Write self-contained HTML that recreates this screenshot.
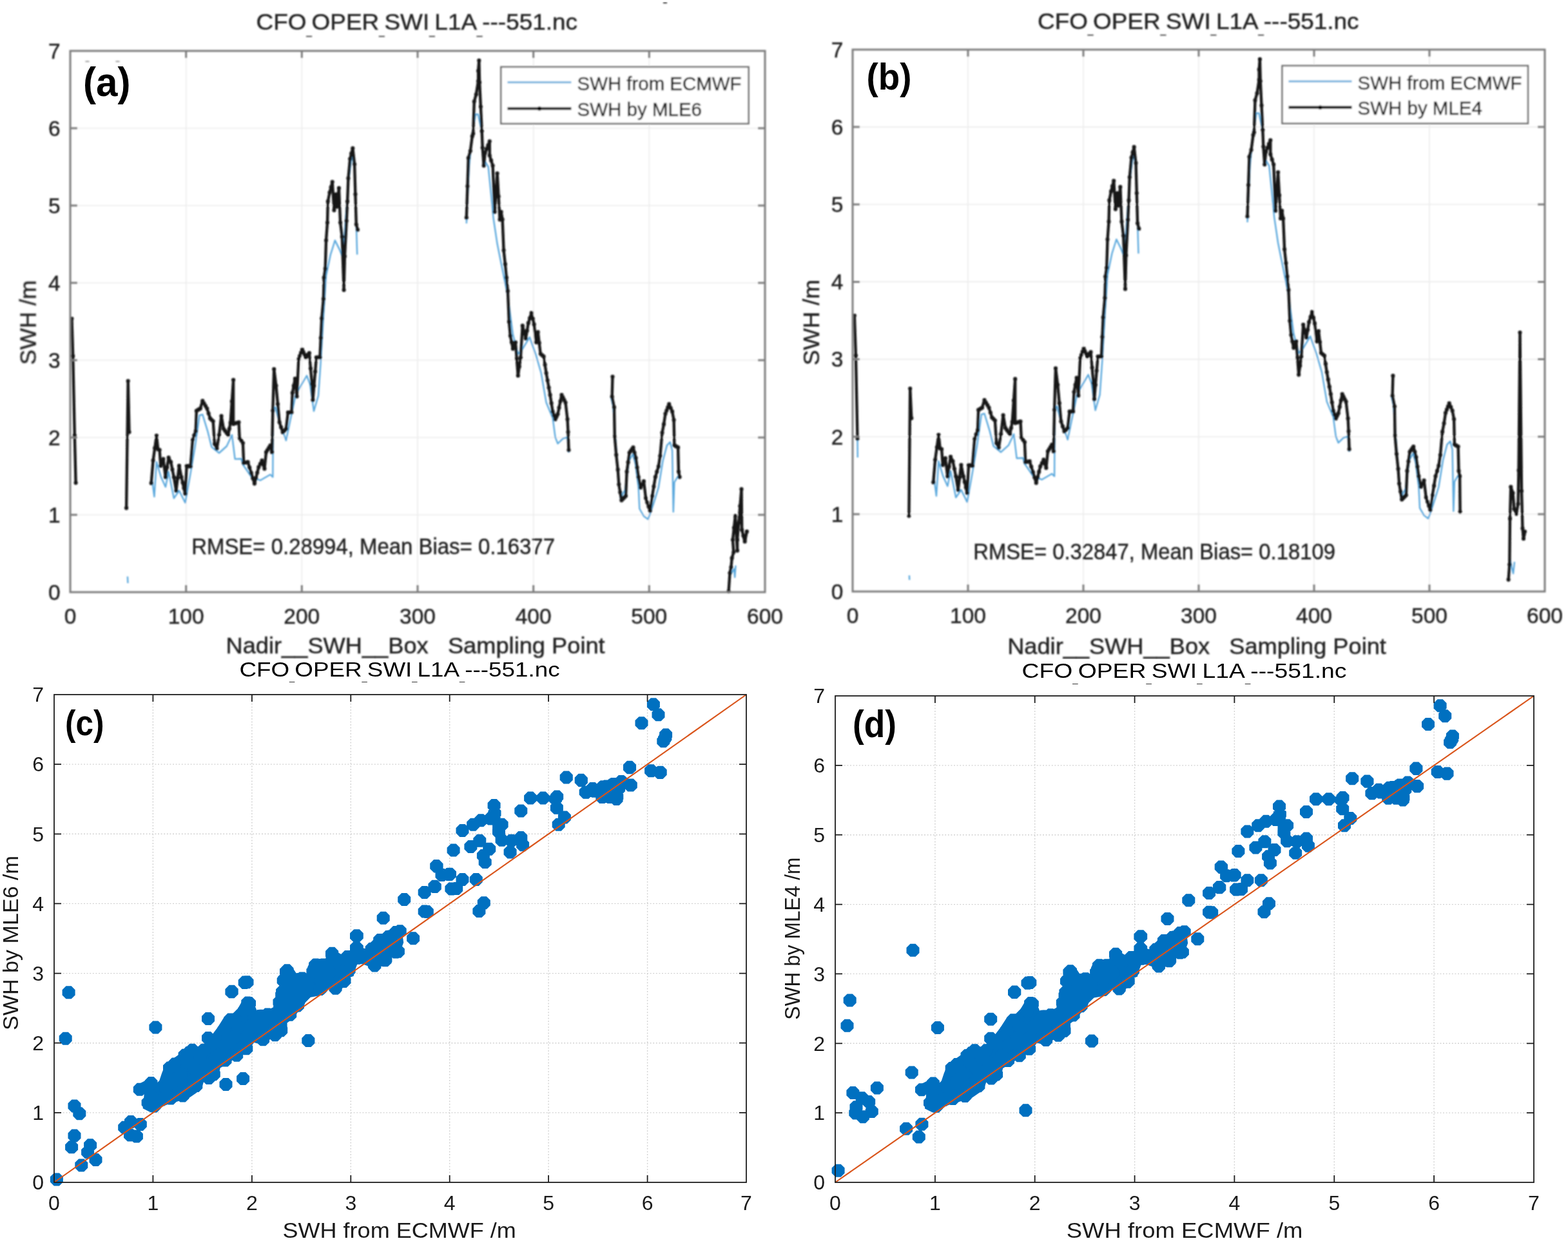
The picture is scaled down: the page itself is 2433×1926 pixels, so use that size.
<!DOCTYPE html>
<html><head><meta charset="utf-8"><title>SWH comparison</title>
<style>html,body{margin:0;padding:0;background:#fff;width:2433px;height:1926px;overflow:hidden}svg{display:block}</style>
</head><body><svg width="2433" height="1926" viewBox="0 0 2433 1926" font-family="'Liberation Sans', Arial, Helvetica, sans-serif"><defs><filter id="bl" x="0" y="0" width="1" height="1"><feGaussianBlur stdDeviation="0.8"/></filter></defs><g filter="url(#bl)"><line x1="288.7" y1="79" x2="288.7" y2="919" stroke="#ececec" stroke-width="1.6" />
<line x1="468.3" y1="79" x2="468.3" y2="919" stroke="#ececec" stroke-width="1.6" />
<line x1="648.0" y1="79" x2="648.0" y2="919" stroke="#ececec" stroke-width="1.6" />
<line x1="827.7" y1="79" x2="827.7" y2="919" stroke="#ececec" stroke-width="1.6" />
<line x1="1007.3" y1="79" x2="1007.3" y2="919" stroke="#ececec" stroke-width="1.6" />
<line x1="109" y1="799.0" x2="1187" y2="799.0" stroke="#ececec" stroke-width="1.6" />
<line x1="109" y1="679.0" x2="1187" y2="679.0" stroke="#ececec" stroke-width="1.6" />
<line x1="109" y1="559.0" x2="1187" y2="559.0" stroke="#ececec" stroke-width="1.6" />
<line x1="109" y1="439.0" x2="1187" y2="439.0" stroke="#ececec" stroke-width="1.6" />
<line x1="109" y1="319.0" x2="1187" y2="319.0" stroke="#ececec" stroke-width="1.6" />
<line x1="109" y1="199.0" x2="1187" y2="199.0" stroke="#ececec" stroke-width="1.6" />
<line x1="1502.0" y1="77" x2="1502.0" y2="918" stroke="#ececec" stroke-width="1.6" />
<line x1="1681.0" y1="77" x2="1681.0" y2="918" stroke="#ececec" stroke-width="1.6" />
<line x1="1860.0" y1="77" x2="1860.0" y2="918" stroke="#ececec" stroke-width="1.6" />
<line x1="2039.0" y1="77" x2="2039.0" y2="918" stroke="#ececec" stroke-width="1.6" />
<line x1="2218.0" y1="77" x2="2218.0" y2="918" stroke="#ececec" stroke-width="1.6" />
<line x1="1323" y1="797.9" x2="2397" y2="797.9" stroke="#ececec" stroke-width="1.6" />
<line x1="1323" y1="677.7" x2="2397" y2="677.7" stroke="#ececec" stroke-width="1.6" />
<line x1="1323" y1="557.6" x2="2397" y2="557.6" stroke="#ececec" stroke-width="1.6" />
<line x1="1323" y1="437.4" x2="2397" y2="437.4" stroke="#ececec" stroke-width="1.6" />
<line x1="1323" y1="317.3" x2="2397" y2="317.3" stroke="#ececec" stroke-width="1.6" />
<line x1="1323" y1="197.1" x2="2397" y2="197.1" stroke="#ececec" stroke-width="1.6" />
<g>
<polyline points="197.9,894.7 198.4,905.0" fill="none" stroke="#5aa8dd" stroke-width="2.4" stroke-linejoin="round"/>
<polyline points="236.0,745.0 239.4,770.9 242.9,717.0 249.9,740.5 256.9,755.7 261.6,732.3 269.8,773.2 278.0,761.5 287.4,780.3 295.6,734.6 302.6,693.6 309.6,644.5 314.3,643.3 322.5,670.2 328.3,693.6 340.0,703.0 351.7,692.5 360.0,675.0 364.6,712.4 374.3,712.0 376.9,721.0 390.0,740.0 403.9,745.5 419.4,736.5 423.3,740.3 423.9,636.0 427.1,632.1 432.3,650.2 443.9,683.6 450.3,652.7 459.0,612.0 466.0,600.0 476.0,583.0 481.0,596.0 487.0,638.0 494.0,614.0 497.8,560.2 501.9,491.4 506.0,428.1 512.9,395.1 519.8,373.1 526.7,386.9 532.2,400.6 536.3,340.1 540.4,285.0 545.9,241.0 550.1,257.5 554.2,395.1" fill="none" stroke="#5aa8dd" stroke-width="2.4" stroke-linejoin="round"/>
<polyline points="723.8,346.7 727.8,259.1 732.8,207.4 737.8,177.5 741.8,177.5 745.7,195.4 751.7,249.2 757.7,259.1 761.7,298.9 765.6,338.8 771.6,378.6 777.6,408.4 787.9,459.6 795.9,519.3 803.8,549.2 809.8,543.2 821.8,523.3 831.7,551.2 839.7,579.0 847.6,624.8 857.6,648.7 861.6,678.6 865.5,688.5 873.5,680.6 880.5,678.6 882.5,702.4" fill="none" stroke="#5aa8dd" stroke-width="2.4" stroke-linejoin="round"/>
<polyline points="948.0,615.7 951.3,630.5 955.0,680.0 958.0,720.0 962.8,773.1 970.0,760.0 976.0,715.0 982.0,705.0 986.0,720.0 990.7,756.7 992.3,789.5 998.9,801.0 1005.4,805.9 1008.7,797.7 1015.2,778.0 1021.8,756.7 1028.4,715.7 1034.9,691.1 1039.8,686.2 1043.1,699.3 1044.8,794.4 1046.4,748.5 1051.3,740.3 1054.6,737.0" fill="none" stroke="#5aa8dd" stroke-width="2.4" stroke-linejoin="round"/>
<polyline points="1132.5,893.2 1139.0,882.9 1140.2,895.8 1141.5,877.7" fill="none" stroke="#5aa8dd" stroke-width="2.4" stroke-linejoin="round"/>
<polyline points="111.4,494.6 113.2,552.6 115.8,675.5 117.6,749.3" fill="none" stroke="#141414" stroke-width="4.4" stroke-linejoin="round"/>
<path fill="none" stroke="#141414" stroke-width="6.2" stroke-linecap="round" d="M111.4 494.6h0M113.2 552.6h0M115.8 675.5h0M117.6 749.3h0"/>
<polyline points="196.1,788.4 198.7,591.3 200.5,670.6" fill="none" stroke="#141414" stroke-width="4.4" stroke-linejoin="round"/>
<path fill="none" stroke="#141414" stroke-width="6.2" stroke-linecap="round" d="M196.1 788.4h0M198.7 591.3h0M200.5 670.6h0"/>
<polyline points="234.7,749.8 237.6,714.7 242.9,676.1 245.2,697.2 247.6,698.3 249.3,722.9 253.4,712.4 256.9,740.5 261.6,710.0 265.1,717.0 269.8,740.5 273.3,761.5 278.0,722.9 281.5,740.5 287.4,766.2 289.7,722.9 295.6,724.1 299.0,682.0 303.7,669.0 304.9,637.5 310.8,634.0 314.3,622.2 321.3,634.0 326.0,649.2 330.7,653.8 333.0,689.0 336.5,696.0 340.0,675.0 343.5,645.7 347.0,665.6 354.0,675.0 357.6,656.2 362.1,589.6 362.1,657.9 370.5,655.3 371.7,679.8 376.9,687.5 378.2,718.4 384.6,717.1 389.8,733.9 394.9,750.6 401.4,724.9 406.5,714.6 410.4,727.4 413.0,701.7 419.4,691.4 422.0,701.7 423.3,637.3 425.2,572.9 428.4,598.6 431.0,627.0 433.6,655.3 438.7,670.8 443.9,665.6 446.9,640.0 452.4,640.0 453.8,609.7 457.9,587.7 460.6,615.3 463.4,557.5 468.9,542.3 474.4,554.7 479.9,547.8 484.0,596.0 485.4,620.8 490.9,554.7 496.4,554.7 497.8,524.4 499.2,494.2 501.9,463.9 502.7,430.9 504.7,417.1 506.0,373.1 508.0,345.6 508.8,312.6 511.5,298.8 515.7,282.3 518.4,326.3 521.2,301.5 522.6,320.8 525.9,291.9 528.1,345.6 530.8,367.6 533.6,450.1 534.9,397.9 537.7,342.8 539.1,312.6 540.4,276.8 543.2,246.5 547.3,230.0 550.1,254.8 551.4,301.5 552.8,348.3 555.0,356.6" fill="none" stroke="#141414" stroke-width="4.4" stroke-linejoin="round"/>
<path fill="none" stroke="#141414" stroke-width="6.2" stroke-linecap="round" d="M234.7 749.8h0M237.6 714.7h0M240.2 695.4h0M242.9 676.1h0M245.2 697.2h0M247.6 698.3h0M249.3 722.9h0M251.3 717.6h0M253.4 712.4h0M256.9 740.5h0M259.2 725.2h0M261.6 710.0h0M265.1 717.0h0M267.4 728.8h0M269.8 740.5h0M273.3 761.5h0M275.6 742.2h0M278.0 722.9h0M281.5 740.5h0M283.5 749.1h0M285.4 757.6h0M287.4 766.2h0M289.7 722.9h0M291.7 723.3h0M293.6 723.7h0M295.6 724.1h0M299.0 682.0h0M301.3 675.5h0M303.7 669.0h0M304.9 637.5h0M306.9 636.3h0M308.8 635.2h0M310.8 634.0h0M314.3 622.2h0M316.6 626.1h0M319.0 630.1h0M321.3 634.0h0M323.6 641.6h0M326.0 649.2h0M328.3 651.5h0M330.7 653.8h0M333.0 689.0h0M336.5 696.0h0M340.0 675.0h0M343.5 645.7h0M347.0 665.6h0M349.3 668.7h0M351.7 671.9h0M354.0 675.0h0M355.8 665.6h0M357.6 656.2h0M359.8 622.9h0M362.1 589.6h0M362.1 657.9h0M364.2 657.2h0M366.3 656.6h0M368.4 656.0h0M370.5 655.3h0M371.7 679.8h0M374.3 683.6h0M376.9 687.5h0M378.2 718.4h0M380.3 718.0h0M382.5 717.5h0M384.6 717.1h0M387.2 725.5h0M389.8 733.9h0M392.3 742.2h0M394.9 750.6h0M397.1 742.0h0M399.2 733.5h0M401.4 724.9h0M403.9 719.8h0M406.5 714.6h0M408.4 721.0h0M410.4 727.4h0M413.0 701.7h0M415.1 698.3h0M417.3 694.8h0M419.4 691.4h0M422.0 701.7h0M423.3 637.3h0M425.2 572.9h0M428.4 598.6h0M431.0 627.0h0M433.6 655.3h0M436.1 663.0h0M438.7 670.8h0M441.3 668.2h0M443.9 665.6h0M446.9 640.0h0M448.7 640.0h0M450.6 640.0h0M452.4 640.0h0M453.8 609.7h0M455.8 598.7h0M457.9 587.7h0M460.6 615.3h0M463.4 557.5h0M465.2 552.4h0M467.1 547.4h0M468.9 542.3h0M470.7 546.4h0M472.6 550.6h0M474.4 554.7h0M476.2 552.4h0M478.1 550.1h0M479.9 547.8h0M481.9 571.9h0M484.0 596.0h0M485.4 620.8h0M487.2 598.8h0M489.1 576.7h0M490.9 554.7h0M492.7 554.7h0M494.6 554.7h0M496.4 554.7h0M497.8 524.4h0M499.2 494.2h0M501.9 463.9h0M502.7 430.9h0M504.7 417.1h0M506.0 373.1h0M508.0 345.6h0M508.8 312.6h0M511.5 298.8h0M513.6 290.5h0M515.7 282.3h0M518.4 326.3h0M521.2 301.5h0M522.6 320.8h0M525.9 291.9h0M528.1 345.6h0M530.8 367.6h0M533.6 450.1h0M534.9 397.9h0M537.7 342.8h0M539.1 312.6h0M540.4 276.8h0M543.2 246.5h0M545.2 238.2h0M547.3 230.0h0M550.1 254.8h0M551.4 301.5h0M552.8 348.3h0M555.0 356.6h0"/>
<polyline points="723.8,337.8 725.4,289.0 726.8,245.2 729.8,234.3 732.8,211.4 734.2,207.4 735.8,157.6 738.8,146.7 742.1,125.8 742.1,109.9 743.3,93.9 744.1,127.8 747.7,203.4 748.7,229.3 750.7,257.1 752.7,237.2 759.7,219.3 759.7,241.2 764.6,257.1 767.6,328.8 771.6,269.1 773.6,304.9 775.6,340.7 777.6,328.8 779.6,340.7 781.6,388.5 783.9,409.9 787.9,451.7 789.9,499.4 791.9,521.3 795.9,541.2 799.9,531.3 803.8,583.0 807.8,555.2 810.8,505.4 815.8,525.3 819.8,501.4 824.7,485.5 828.7,503.4 831.7,531.3 834.7,515.3 838.7,549.2 843.6,553.2 847.6,579.0 853.6,612.9 857.6,638.8 861.6,650.7 865.5,642.7 871.5,612.9 877.5,624.8 880.5,650.7 881.5,670.6 882.5,698.5" fill="none" stroke="#141414" stroke-width="4.4" stroke-linejoin="round"/>
<path fill="none" stroke="#141414" stroke-width="6.2" stroke-linecap="round" d="M723.8 337.8h0M725.4 289.0h0M726.8 245.2h0M729.8 234.3h0M732.8 211.4h0M734.2 207.4h0M735.8 157.6h0M738.8 146.7h0M742.1 125.8h0M742.1 109.9h0M743.3 93.9h0M744.1 127.8h0M745.9 165.6h0M747.7 203.4h0M748.7 229.3h0M750.7 257.1h0M752.7 237.2h0M755.0 231.2h0M757.4 225.3h0M759.7 219.3h0M759.7 241.2h0M762.1 249.1h0M764.6 257.1h0M767.6 328.8h0M769.6 298.9h0M771.6 269.1h0M773.6 304.9h0M775.6 340.7h0M777.6 328.8h0M779.6 340.7h0M781.6 388.5h0M783.9 409.9h0M785.9 430.8h0M787.9 451.7h0M789.9 499.4h0M791.9 521.3h0M793.9 531.2h0M795.9 541.2h0M797.9 536.2h0M799.9 531.3h0M801.8 557.1h0M803.8 583.0h0M805.8 569.1h0M807.8 555.2h0M810.8 505.4h0M813.3 515.3h0M815.8 525.3h0M817.8 513.3h0M819.8 501.4h0M822.2 493.5h0M824.7 485.5h0M826.7 494.4h0M828.7 503.4h0M831.7 531.3h0M834.7 515.3h0M836.7 532.2h0M838.7 549.2h0M841.1 551.2h0M843.6 553.2h0M845.6 566.1h0M847.6 579.0h0M849.6 590.3h0M851.6 601.6h0M853.6 612.9h0M855.6 625.8h0M857.6 638.8h0M859.6 644.8h0M861.6 650.7h0M863.5 646.7h0M865.5 642.7h0M867.5 632.8h0M869.5 622.8h0M871.5 612.9h0M873.5 616.9h0M875.5 620.8h0M877.5 624.8h0M880.5 650.7h0M881.5 670.6h0M882.5 698.5h0"/>
<polyline points="950.5,584.6 949.7,615.7 953.0,632.1 953.8,678.0 956.2,705.9 958.7,728.9 960.3,751.8 964.4,776.4 971.0,769.8 972.6,732.1 976.7,702.6 982.5,694.4 986.6,710.8 990.7,740.3 994.0,756.7 998.9,746.9 1002.1,773.1 1008.7,792.8 1012.0,769.8 1016.9,740.3 1021.8,723.9 1024.3,707.5 1027.5,671.5 1030.0,658.4 1032.5,642.0 1038.2,627.2 1043.1,638.7 1045.6,651.8 1046.4,691.1 1052.1,694.4 1053.0,732.1 1054.6,740.3" fill="none" stroke="#141414" stroke-width="4.4" stroke-linejoin="round"/>
<path fill="none" stroke="#141414" stroke-width="6.2" stroke-linecap="round" d="M950.5 584.6h0M949.7 615.7h0M953.0 632.1h0M953.8 678.0h0M956.2 705.9h0M958.7 728.9h0M960.3 751.8h0M962.3 764.1h0M964.4 776.4h0M966.6 774.2h0M968.8 772.0h0M971.0 769.8h0M972.6 732.1h0M974.6 717.4h0M976.7 702.6h0M978.6 699.9h0M980.6 697.1h0M982.5 694.4h0M984.5 702.6h0M986.6 710.8h0M988.6 725.5h0M990.7 740.3h0M994.0 756.7h0M996.4 751.8h0M998.9 746.9h0M1002.1 773.1h0M1004.3 779.7h0M1006.5 786.2h0M1008.7 792.8h0M1012.0 769.8h0M1014.4 755.0h0M1016.9 740.3h0M1019.3 732.1h0M1021.8 723.9h0M1024.3 707.5h0M1027.5 671.5h0M1030.0 658.4h0M1032.5 642.0h0M1034.4 637.1h0M1036.3 632.1h0M1038.2 627.2h0M1040.6 633.0h0M1043.1 638.7h0M1045.6 651.8h0M1046.4 691.1h0M1048.3 692.2h0M1050.2 693.3h0M1052.1 694.4h0M1053.0 732.1h0M1054.6 740.3h0"/>
<polyline points="1130.6,917.7 1132.5,889.3 1134.4,880.3 1135.7,866.2 1138.3,857.1 1137.0,837.8 1140.9,800.5 1144.1,854.6 1144.1,837.8 1150.5,759.2 1151.2,822.4 1155.7,840.4 1158.9,824.9 1155.7,836.5" fill="none" stroke="#141414" stroke-width="4.4" stroke-linejoin="round"/>
<path fill="none" stroke="#141414" stroke-width="6.2" stroke-linecap="round" d="M1130.6 917.7h0M1132.5 889.3h0M1134.4 880.3h0M1135.7 866.2h0M1138.3 857.1h0M1137.0 837.8h0M1138.9 819.1h0M1140.9 800.5h0M1144.1 854.6h0M1144.1 837.8h0M1146.2 811.6h0M1148.3 785.4h0M1150.5 759.2h0M1151.2 822.4h0M1153.4 831.4h0M1155.7 840.4h0M1158.9 824.9h0M1155.7 836.5h0"/>
</g>
<g>
<polyline points="1330.5,680.7 1330.8,710.0" fill="none" stroke="#5aa8dd" stroke-width="2.4" stroke-linejoin="round"/>
<polyline points="1410.9,893.0 1411.2,900.0" fill="none" stroke="#5aa8dd" stroke-width="2.4" stroke-linejoin="round"/>
<polyline points="1449.5,743.8 1452.9,769.7 1456.4,715.8 1463.4,739.3 1470.3,754.5 1475.0,731.1 1483.2,772.0 1491.4,760.3 1500.7,779.1 1508.9,733.4 1515.9,692.3 1522.9,643.2 1527.5,642.0 1535.7,668.9 1541.5,692.3 1553.1,701.7 1564.8,691.2 1573.1,673.7 1577.6,711.2 1587.3,710.8 1589.9,719.8 1603.0,738.8 1616.8,744.3 1632.2,735.3 1636.1,739.1 1636.7,634.7 1639.9,630.8 1645.1,648.9 1656.7,682.3 1663.0,651.4 1671.7,610.6 1678.7,598.6 1688.6,581.6 1693.6,594.6 1699.6,636.7 1706.6,612.6 1710.4,558.8 1714.4,489.9 1718.5,426.5 1725.4,393.5 1732.3,371.5 1739.1,385.3 1744.6,399.0 1748.7,338.4 1752.8,283.2 1758.3,239.2 1762.5,255.7 1766.5,393.5" fill="none" stroke="#5aa8dd" stroke-width="2.4" stroke-linejoin="round"/>
<polyline points="1935.5,345.0 1939.5,257.3 1944.5,205.6 1949.5,175.6 1953.4,175.6 1957.3,193.5 1963.3,247.4 1969.3,257.3 1973.3,297.2 1977.2,337.1 1983.1,377.0 1989.1,406.8 1999.4,458.1 2007.3,517.8 2015.2,547.8 2021.2,541.8 2033.1,521.8 2043.0,549.8 2051.0,577.6 2058.8,623.4 2068.8,647.4 2072.8,677.3 2076.7,687.2 2084.6,679.3 2091.6,677.3 2093.6,701.1" fill="none" stroke="#5aa8dd" stroke-width="2.4" stroke-linejoin="round"/>
<polyline points="2158.9,614.3 2162.2,629.2 2165.8,678.7 2168.8,718.8 2173.6,771.9 2180.8,758.8 2186.8,713.8 2192.7,703.7 2196.7,718.8 2201.4,755.5 2203.0,788.3 2209.6,799.9 2216.1,804.8 2219.3,796.6 2225.8,776.8 2232.4,755.5 2239.0,714.5 2245.4,689.8 2250.3,684.9 2253.6,698.0 2255.3,793.3 2256.9,747.3 2261.8,739.1 2265.1,735.8" fill="none" stroke="#5aa8dd" stroke-width="2.4" stroke-linejoin="round"/>
<polyline points="2341.5,895.0 2343.0,868.0 2345.5,880.0 2348.0,890.0 2350.0,872.0" fill="none" stroke="#5aa8dd" stroke-width="2.4" stroke-linejoin="round"/>
<polyline points="1325.8,489.8 1327.9,551.7 1330.5,680.7" fill="none" stroke="#141414" stroke-width="4.4" stroke-linejoin="round"/>
<path fill="none" stroke="#141414" stroke-width="6.2" stroke-linecap="round" d="M1325.8 489.8h0M1327.9 551.7h0M1330.5 680.7h0"/>
<polyline points="1410.4,800.6 1412.2,603.0 1414.3,649.1" fill="none" stroke="#141414" stroke-width="4.4" stroke-linejoin="round"/>
<path fill="none" stroke="#141414" stroke-width="6.2" stroke-linecap="round" d="M1410.4 800.6h0M1412.2 603.0h0M1414.3 649.1h0"/>
<polyline points="1448.2,748.6 1451.1,713.5 1456.4,674.8 1458.7,695.9 1461.1,697.0 1462.8,721.7 1466.9,711.2 1470.3,739.3 1475.0,708.8 1478.5,715.8 1483.2,739.3 1486.7,760.3 1491.4,721.7 1494.9,739.3 1500.7,765.0 1503.0,721.7 1508.9,722.9 1512.3,680.7 1517.0,667.7 1518.2,636.2 1524.0,632.7 1527.5,620.8 1534.5,632.7 1539.2,647.9 1543.9,652.5 1546.2,687.7 1549.7,694.7 1553.1,673.7 1556.6,644.4 1560.1,664.3 1567.1,673.7 1570.7,654.9 1575.2,588.2 1575.2,656.6 1583.5,654.0 1584.7,678.5 1589.9,686.2 1591.2,717.2 1597.6,715.9 1602.8,732.7 1607.8,749.4 1614.3,723.7 1619.4,713.4 1623.3,726.2 1625.9,700.4 1632.2,690.1 1634.8,700.4 1636.1,636.0 1638.0,571.5 1641.2,597.2 1643.8,625.7 1646.4,654.0 1651.5,669.5 1656.7,664.3 1659.6,638.7 1665.1,638.7 1666.5,608.3 1670.6,586.3 1673.3,613.9 1676.1,556.1 1681.6,540.9 1687.0,553.3 1692.5,546.4 1696.6,594.6 1698.0,619.4 1703.5,553.3 1709.0,553.3 1710.4,522.9 1711.7,492.7 1714.4,462.4 1715.2,429.3 1717.2,415.5 1718.5,371.5 1720.5,343.9 1721.3,310.9 1724.0,297.1 1728.2,280.5 1730.9,324.6 1733.7,299.8 1735.1,319.1 1738.3,290.2 1740.5,343.9 1743.2,365.9 1746.0,448.5 1747.3,396.3 1750.1,341.1 1751.5,310.9 1752.8,275.0 1755.6,244.7 1759.7,228.2 1762.5,253.0 1763.8,299.8 1765.1,346.6 1767.3,354.9" fill="none" stroke="#141414" stroke-width="4.4" stroke-linejoin="round"/>
<path fill="none" stroke="#141414" stroke-width="6.2" stroke-linecap="round" d="M1448.2 748.6h0M1451.1 713.5h0M1453.8 694.1h0M1456.4 674.8h0M1458.7 695.9h0M1461.1 697.0h0M1462.8 721.7h0M1464.8 716.4h0M1466.9 711.2h0M1470.3 739.3h0M1472.7 724.0h0M1475.0 708.8h0M1478.5 715.8h0M1480.9 727.5h0M1483.2 739.3h0M1486.7 760.3h0M1489.0 741.0h0M1491.4 721.7h0M1494.9 739.3h0M1496.8 747.9h0M1498.8 756.4h0M1500.7 765.0h0M1503.0 721.7h0M1505.0 722.1h0M1506.9 722.5h0M1508.9 722.9h0M1512.3 680.7h0M1514.6 674.2h0M1517.0 667.7h0M1518.2 636.2h0M1520.1 635.0h0M1522.1 633.8h0M1524.0 632.7h0M1527.5 620.8h0M1529.9 624.8h0M1532.2 628.7h0M1534.5 632.7h0M1536.8 640.3h0M1539.2 647.9h0M1541.5 650.2h0M1543.9 652.5h0M1546.2 687.7h0M1549.7 694.7h0M1553.1 673.7h0M1556.6 644.4h0M1560.1 664.3h0M1562.4 667.4h0M1564.8 670.6h0M1567.1 673.7h0M1568.9 664.3h0M1570.7 654.9h0M1572.9 621.5h0M1575.2 588.2h0M1575.2 656.6h0M1577.2 655.9h0M1579.3 655.3h0M1581.4 654.6h0M1583.5 654.0h0M1584.7 678.5h0M1587.3 682.4h0M1589.9 686.2h0M1591.2 717.2h0M1593.3 716.7h0M1595.4 716.3h0M1597.6 715.9h0M1600.2 724.3h0M1602.8 732.7h0M1605.3 741.0h0M1607.8 749.4h0M1610.0 740.8h0M1612.2 732.2h0M1614.3 723.7h0M1616.9 718.5h0M1619.4 713.4h0M1621.3 719.8h0M1623.3 726.2h0M1625.9 700.4h0M1628.0 697.0h0M1630.1 693.6h0M1632.2 690.1h0M1634.8 700.4h0M1636.1 636.0h0M1638.0 571.5h0M1641.2 597.2h0M1643.8 625.7h0M1646.4 654.0h0M1648.9 661.7h0M1651.5 669.5h0M1654.1 666.9h0M1656.7 664.3h0M1659.6 638.7h0M1661.5 638.7h0M1663.3 638.7h0M1665.1 638.7h0M1666.5 608.3h0M1668.6 597.3h0M1670.6 586.3h0M1673.3 613.9h0M1676.1 556.1h0M1677.9 551.0h0M1679.7 545.9h0M1681.6 540.9h0M1683.4 545.0h0M1685.2 549.1h0M1687.0 553.3h0M1688.9 551.0h0M1690.7 548.7h0M1692.5 546.4h0M1694.6 570.5h0M1696.6 594.6h0M1698.0 619.4h0M1699.8 597.4h0M1701.6 575.3h0M1703.5 553.3h0M1705.3 553.3h0M1707.1 553.3h0M1709.0 553.3h0M1710.4 522.9h0M1711.7 492.7h0M1714.4 462.4h0M1715.2 429.3h0M1717.2 415.5h0M1718.5 371.5h0M1720.5 343.9h0M1721.3 310.9h0M1724.0 297.1h0M1726.1 288.8h0M1728.2 280.5h0M1730.9 324.6h0M1733.7 299.8h0M1735.1 319.1h0M1738.3 290.2h0M1740.5 343.9h0M1743.2 365.9h0M1746.0 448.5h0M1747.3 396.3h0M1750.1 341.1h0M1751.5 310.9h0M1752.8 275.0h0M1755.6 244.7h0M1757.6 236.4h0M1759.7 228.2h0M1762.5 253.0h0M1763.8 299.8h0M1765.1 346.6h0M1767.3 354.9h0"/>
<polyline points="1935.5,336.1 1937.1,287.2 1938.5,243.4 1941.5,232.5 1944.5,209.6 1945.9,205.6 1947.5,155.7 1950.5,144.8 1953.7,123.9 1953.7,107.9 1954.9,91.9 1955.7,125.9 1959.3,201.5 1960.3,227.5 1962.3,255.3 1964.3,235.4 1971.3,217.5 1971.3,239.4 1976.2,255.3 1979.1,327.1 1983.1,267.3 1985.1,303.2 1987.1,339.0 1989.1,327.1 1991.1,339.0 1993.1,386.9 1995.4,408.3 1999.4,450.1 2001.4,497.9 2003.4,519.8 2007.3,539.8 2011.3,529.8 2015.2,581.6 2019.2,553.8 2022.2,503.9 2027.2,523.8 2031.1,499.9 2036.0,484.0 2040.0,501.9 2043.0,529.8 2046.0,513.8 2050.0,547.8 2054.9,551.8 2058.8,577.6 2064.8,611.5 2068.8,637.5 2072.8,649.4 2076.7,641.4 2082.7,611.5 2088.6,623.4 2091.6,649.4 2092.6,669.3 2093.6,697.2" fill="none" stroke="#141414" stroke-width="4.4" stroke-linejoin="round"/>
<path fill="none" stroke="#141414" stroke-width="6.2" stroke-linecap="round" d="M1935.5 336.1h0M1937.1 287.2h0M1938.5 243.4h0M1941.5 232.5h0M1944.5 209.6h0M1945.9 205.6h0M1947.5 155.7h0M1950.5 144.8h0M1953.7 123.9h0M1953.7 107.9h0M1954.9 91.9h0M1955.7 125.9h0M1957.5 163.7h0M1959.3 201.5h0M1960.3 227.5h0M1962.3 255.3h0M1964.3 235.4h0M1966.6 229.4h0M1968.9 223.4h0M1971.3 217.5h0M1971.3 239.4h0M1973.7 247.4h0M1976.2 255.3h0M1979.1 327.1h0M1981.1 297.2h0M1983.1 267.3h0M1985.1 303.2h0M1987.1 339.0h0M1989.1 327.1h0M1991.1 339.0h0M1993.1 386.9h0M1995.4 408.3h0M1997.4 429.2h0M1999.4 450.1h0M2001.4 497.9h0M2003.4 519.8h0M2005.3 529.8h0M2007.3 539.8h0M2009.3 534.8h0M2011.3 529.8h0M2013.3 555.7h0M2015.2 581.6h0M2017.2 567.7h0M2019.2 553.8h0M2022.2 503.9h0M2024.7 513.9h0M2027.2 523.8h0M2029.2 511.9h0M2031.1 499.9h0M2033.6 491.9h0M2036.0 484.0h0M2038.0 492.9h0M2040.0 501.9h0M2043.0 529.8h0M2046.0 513.8h0M2048.0 530.8h0M2050.0 547.8h0M2052.4 549.8h0M2054.9 551.8h0M2056.9 564.7h0M2058.8 577.6h0M2060.8 588.9h0M2062.8 600.2h0M2064.8 611.5h0M2066.8 624.5h0M2068.8 637.5h0M2070.8 643.4h0M2072.8 649.4h0M2074.7 645.4h0M2076.7 641.4h0M2078.7 631.4h0M2080.7 621.5h0M2082.7 611.5h0M2084.6 615.5h0M2086.6 619.5h0M2088.6 623.4h0M2091.6 649.4h0M2092.6 669.3h0M2093.6 697.2h0"/>
<polyline points="2161.4,583.2 2160.6,614.3 2163.9,630.8 2164.6,676.7 2167.0,704.6 2169.5,727.7 2171.1,750.6 2175.2,775.2 2181.8,768.6 2183.4,730.9 2187.5,701.3 2193.2,693.1 2197.3,709.6 2201.4,739.1 2204.7,755.5 2209.6,745.7 2212.8,771.9 2219.3,791.6 2222.6,768.6 2227.5,739.1 2232.4,722.7 2234.9,706.2 2238.1,670.2 2240.6,657.1 2243.1,640.7 2248.7,625.9 2253.6,637.4 2256.1,650.5 2256.9,689.8 2262.6,693.1 2263.5,730.9 2265.1,739.1 2265.6,794.3" fill="none" stroke="#141414" stroke-width="4.4" stroke-linejoin="round"/>
<path fill="none" stroke="#141414" stroke-width="6.2" stroke-linecap="round" d="M2161.4 583.2h0M2160.6 614.3h0M2163.9 630.8h0M2164.6 676.7h0M2167.0 704.6h0M2169.5 727.7h0M2171.1 750.6h0M2173.2 762.9h0M2175.2 775.2h0M2177.4 773.0h0M2179.6 770.8h0M2181.8 768.6h0M2183.4 730.9h0M2185.4 716.1h0M2187.5 701.3h0M2189.4 698.6h0M2191.3 695.9h0M2193.2 693.1h0M2195.3 701.3h0M2197.3 709.6h0M2199.4 724.3h0M2201.4 739.1h0M2204.7 755.5h0M2207.1 750.6h0M2209.6 745.7h0M2212.8 771.9h0M2215.0 778.5h0M2217.2 785.1h0M2219.3 791.6h0M2222.6 768.6h0M2225.1 753.9h0M2227.5 739.1h0M2230.0 730.9h0M2232.4 722.7h0M2234.9 706.2h0M2238.1 670.2h0M2240.6 657.1h0M2243.1 640.7h0M2244.9 635.7h0M2246.8 630.8h0M2248.7 625.9h0M2251.2 631.6h0M2253.6 637.4h0M2256.1 650.5h0M2256.9 689.8h0M2258.8 690.9h0M2260.7 692.0h0M2262.6 693.1h0M2263.5 730.9h0M2265.1 739.1h0M2265.6 794.3h0"/>
<polyline points="2340.6,899.6 2342.3,876.2 2343.0,804.9 2344.3,755.7 2347.5,765.0 2349.5,790.0 2352.9,797.5 2355.5,782.0 2356.5,730.0 2358.5,516.0 2361.0,762.0 2362.5,820.0 2364.0,836.0 2366.0,825.0 2364.5,830.0" fill="none" stroke="#141414" stroke-width="4.4" stroke-linejoin="round"/>
<path fill="none" stroke="#141414" stroke-width="6.2" stroke-linecap="round" d="M2340.6 899.6h0M2342.3 876.2h0M2343.0 804.9h0M2344.3 755.7h0M2347.5 765.0h0M2349.5 790.0h0M2352.9 797.5h0M2355.5 782.0h0M2356.5 730.0h0M2358.5 516.0h0M2361.0 762.0h0M2362.5 820.0h0M2364.0 836.0h0M2366.0 825.0h0M2364.5 830.0h0"/>
</g>
<rect x="109" y="79" width="1078" height="840" fill="none" stroke="#7d7d7d" stroke-width="3"/>
<path d="M288.7 919v-11M288.7 79v11M468.3 919v-11M468.3 79v11M648.0 919v-11M648.0 79v11M827.7 919v-11M827.7 79v11M1007.3 919v-11M1007.3 79v11M109 799.0h11M1187 799.0h-11M109 679.0h11M1187 679.0h-11M109 559.0h11M1187 559.0h-11M109 439.0h11M1187 439.0h-11M109 319.0h11M1187 319.0h-11M109 199.0h11M1187 199.0h-11" stroke="#7d7d7d" stroke-width="3" fill="none"/>
<rect x="1323" y="77" width="1074" height="841" fill="none" stroke="#7d7d7d" stroke-width="3"/>
<path d="M1502.0 918v-11M1502.0 77v11M1681.0 918v-11M1681.0 77v11M1860.0 918v-11M1860.0 77v11M2039.0 918v-11M2039.0 77v11M2218.0 918v-11M2218.0 77v11M1323 797.9h11M2397 797.9h-11M1323 677.7h11M2397 677.7h-11M1323 557.6h11M2397 557.6h-11M1323 437.4h11M2397 437.4h-11M1323 317.3h11M2397 317.3h-11M1323 197.1h11M2397 197.1h-11" stroke="#7d7d7d" stroke-width="3" fill="none"/>
<text x="109.0" y="968.0" font-size="33.5" text-anchor="middle" fill="#222" stroke="#222" stroke-width="0.45">0</text>
<text x="288.7" y="968.0" font-size="33.5" text-anchor="middle" fill="#222" stroke="#222" stroke-width="0.45">100</text>
<text x="468.3" y="968.0" font-size="33.5" text-anchor="middle" fill="#222" stroke="#222" stroke-width="0.45">200</text>
<text x="648.0" y="968.0" font-size="33.5" text-anchor="middle" fill="#222" stroke="#222" stroke-width="0.45">300</text>
<text x="827.7" y="968.0" font-size="33.5" text-anchor="middle" fill="#222" stroke="#222" stroke-width="0.45">400</text>
<text x="1007.3" y="968.0" font-size="33.5" text-anchor="middle" fill="#222" stroke="#222" stroke-width="0.45">500</text>
<text x="1187.0" y="968.0" font-size="33.5" text-anchor="middle" fill="#222" stroke="#222" stroke-width="0.45">600</text>
<text x="93.7" y="930.8" font-size="33.5" text-anchor="end" fill="#222" stroke="#222" stroke-width="0.45">0</text>
<text x="93.7" y="810.8" font-size="33.5" text-anchor="end" fill="#222" stroke="#222" stroke-width="0.45">1</text>
<text x="93.7" y="690.8" font-size="33.5" text-anchor="end" fill="#222" stroke="#222" stroke-width="0.45">2</text>
<text x="93.7" y="570.8" font-size="33.5" text-anchor="end" fill="#222" stroke="#222" stroke-width="0.45">3</text>
<text x="93.7" y="450.8" font-size="33.5" text-anchor="end" fill="#222" stroke="#222" stroke-width="0.45">4</text>
<text x="93.7" y="330.8" font-size="33.5" text-anchor="end" fill="#222" stroke="#222" stroke-width="0.45">5</text>
<text x="93.7" y="210.8" font-size="33.5" text-anchor="end" fill="#222" stroke="#222" stroke-width="0.45">6</text>
<text x="93.7" y="90.8" font-size="33.5" text-anchor="end" fill="#222" stroke="#222" stroke-width="0.45">7</text>
<text x="1323.0" y="967.0" font-size="33.5" text-anchor="middle" fill="#222" stroke="#222" stroke-width="0.45">0</text>
<text x="1502.0" y="967.0" font-size="33.5" text-anchor="middle" fill="#222" stroke="#222" stroke-width="0.45">100</text>
<text x="1681.0" y="967.0" font-size="33.5" text-anchor="middle" fill="#222" stroke="#222" stroke-width="0.45">200</text>
<text x="1860.0" y="967.0" font-size="33.5" text-anchor="middle" fill="#222" stroke="#222" stroke-width="0.45">300</text>
<text x="2039.0" y="967.0" font-size="33.5" text-anchor="middle" fill="#222" stroke="#222" stroke-width="0.45">400</text>
<text x="2218.0" y="967.0" font-size="33.5" text-anchor="middle" fill="#222" stroke="#222" stroke-width="0.45">500</text>
<text x="2397.0" y="967.0" font-size="33.5" text-anchor="middle" fill="#222" stroke="#222" stroke-width="0.45">600</text>
<text x="1308.5" y="929.8" font-size="33.5" text-anchor="end" fill="#222" stroke="#222" stroke-width="0.45">0</text>
<text x="1308.5" y="809.7" font-size="33.5" text-anchor="end" fill="#222" stroke="#222" stroke-width="0.45">1</text>
<text x="1308.5" y="689.5" font-size="33.5" text-anchor="end" fill="#222" stroke="#222" stroke-width="0.45">2</text>
<text x="1308.5" y="569.4" font-size="33.5" text-anchor="end" fill="#222" stroke="#222" stroke-width="0.45">3</text>
<text x="1308.5" y="449.2" font-size="33.5" text-anchor="end" fill="#222" stroke="#222" stroke-width="0.45">4</text>
<text x="1308.5" y="329.1" font-size="33.5" text-anchor="end" fill="#222" stroke="#222" stroke-width="0.45">5</text>
<text x="1308.5" y="208.9" font-size="33.5" text-anchor="end" fill="#222" stroke="#222" stroke-width="0.45">6</text>
<text x="1308.5" y="88.8" font-size="33.5" text-anchor="end" fill="#222" stroke="#222" stroke-width="0.45">7</text>
<text x="397.5" y="46.2" font-size="35.5" textLength="498.5" lengthAdjust="spacingAndGlyphs" fill="#222" stroke="#222" stroke-width="0.45">CFO<tspan font-size="14.2" dy="7.8">_</tspan><tspan dy="-7.8">OPER</tspan><tspan font-size="14.2" dy="7.8">_</tspan><tspan dy="-7.8">SWI</tspan><tspan font-size="14.2" dy="7.8">_</tspan><tspan dy="-7.8">L1A</tspan><tspan font-size="14.2" dy="7.8">_</tspan><tspan dy="-7.8">---551.nc</tspan></text>
<text x="1610.0" y="44.6" font-size="35" textLength="498.5" lengthAdjust="spacingAndGlyphs" fill="#222" stroke="#222" stroke-width="0.45">CFO<tspan font-size="14.0" dy="7.7">_</tspan><tspan dy="-7.7">OPER</tspan><tspan font-size="14.0" dy="7.7">_</tspan><tspan dy="-7.7">SWI</tspan><tspan font-size="14.0" dy="7.7">_</tspan><tspan dy="-7.7">L1A</tspan><tspan font-size="14.0" dy="7.7">_</tspan><tspan dy="-7.7">---551.nc</tspan></text>
<text x="350.5" y="1014.0" font-size="35.5" textLength="588.2" lengthAdjust="spacingAndGlyphs" fill="#222" stroke="#222" stroke-width="0.45">Nadir__SWH__Box&#160;&#160;&#160;Sampling Point</text>
<text x="1563.2" y="1014.9" font-size="35.5" textLength="587.7" lengthAdjust="spacingAndGlyphs" fill="#222" stroke="#222" stroke-width="0.45">Nadir__SWH__Box&#160;&#160;&#160;Sampling Point</text>
<text x="55.6" y="566.0" font-size="35.5" textLength="131.0" lengthAdjust="spacingAndGlyphs" transform="rotate(-90 55.6 566.0)" fill="#222" stroke="#222" stroke-width="0.45">SWH /m</text>
<text x="1270.8" y="567.0" font-size="35.5" textLength="133.0" lengthAdjust="spacingAndGlyphs" transform="rotate(-90 1270.8 567.0)" fill="#222" stroke="#222" stroke-width="0.45">SWH /m</text>
<text x="297.2" y="859.5" font-size="35.5" textLength="563.8" lengthAdjust="spacingAndGlyphs" fill="#222" stroke="#222" stroke-width="0.45">RMSE= 0.28994, Mean Bias= 0.16377</text>
<text x="1510.2" y="867.6" font-size="35.5" textLength="561.7" lengthAdjust="spacingAndGlyphs" fill="#222" stroke="#222" stroke-width="0.45">RMSE= 0.32847, Mean Bias= 0.18109</text>
<rect x="777.3" y="103.9" width="384.3" height="88.0" fill="#fff" stroke="#6e6e6e" stroke-width="2.5"/>
<line x1="787.5" y1="127.7" x2="886.4" y2="127.7" stroke="#6fb0dd" stroke-width="3"/>
<line x1="787.5" y1="168.5" x2="886.4" y2="168.5" stroke="#111" stroke-width="4.2"/>
<circle cx="837.0" cy="168.5" r="3.2" fill="#000"/>
<text x="895.6" y="140.0" font-size="29.5" textLength="254.8" lengthAdjust="spacingAndGlyphs" fill="#222" stroke="#222" stroke-width="0.45">SWH from ECMWF</text>
<text x="895.6" y="179.7" font-size="29.5" fill="#222" stroke="#222" stroke-width="0.45">SWH by MLE6</text>
<rect x="1989.5" y="102" width="381.4" height="89.6" fill="#fff" stroke="#6e6e6e" stroke-width="2.5"/>
<line x1="1999.5" y1="126.3" x2="2097.5" y2="126.3" stroke="#6fb0dd" stroke-width="3"/>
<line x1="1999.5" y1="166.7" x2="2097.5" y2="166.7" stroke="#111" stroke-width="4.2"/>
<circle cx="2048.5" cy="166.7" r="3.2" fill="#000"/>
<text x="2106.5" y="138.8" font-size="29.5" textLength="255.0" lengthAdjust="spacingAndGlyphs" fill="#222" stroke="#222" stroke-width="0.45">SWH from ECMWF</text>
<text x="2106.5" y="177.7" font-size="29.5" fill="#222" stroke="#222" stroke-width="0.45">SWH by MLE4</text>
<rect x="1029" y="3.6" width="6" height="1.6" fill="#111"/><rect x="132.5" y="94.6" width="6" height="1.6" fill="#888"/><rect x="179.5" y="94.6" width="6" height="1.6" fill="#888"/></g><g><line x1="237.4" y1="1078" x2="237.4" y2="1835" stroke="#d2d2d2" stroke-width="1.4" stroke-dasharray="2 2.6"/>
<line x1="390.9" y1="1078" x2="390.9" y2="1835" stroke="#d2d2d2" stroke-width="1.4" stroke-dasharray="2 2.6"/>
<line x1="544.3" y1="1078" x2="544.3" y2="1835" stroke="#d2d2d2" stroke-width="1.4" stroke-dasharray="2 2.6"/>
<line x1="697.7" y1="1078" x2="697.7" y2="1835" stroke="#d2d2d2" stroke-width="1.4" stroke-dasharray="2 2.6"/>
<line x1="851.1" y1="1078" x2="851.1" y2="1835" stroke="#d2d2d2" stroke-width="1.4" stroke-dasharray="2 2.6"/>
<line x1="1004.6" y1="1078" x2="1004.6" y2="1835" stroke="#d2d2d2" stroke-width="1.4" stroke-dasharray="2 2.6"/>
<line x1="84" y1="1726.9" x2="1158" y2="1726.9" stroke="#d2d2d2" stroke-width="1.4" stroke-dasharray="2 2.6"/>
<line x1="84" y1="1618.7" x2="1158" y2="1618.7" stroke="#d2d2d2" stroke-width="1.4" stroke-dasharray="2 2.6"/>
<line x1="84" y1="1510.6" x2="1158" y2="1510.6" stroke="#d2d2d2" stroke-width="1.4" stroke-dasharray="2 2.6"/>
<line x1="84" y1="1402.4" x2="1158" y2="1402.4" stroke="#d2d2d2" stroke-width="1.4" stroke-dasharray="2 2.6"/>
<line x1="84" y1="1294.3" x2="1158" y2="1294.3" stroke="#d2d2d2" stroke-width="1.4" stroke-dasharray="2 2.6"/>
<line x1="84" y1="1186.1" x2="1158" y2="1186.1" stroke="#d2d2d2" stroke-width="1.4" stroke-dasharray="2 2.6"/>
<line x1="1450.9" y1="1080" x2="1450.9" y2="1835" stroke="#d2d2d2" stroke-width="1.4" stroke-dasharray="2 2.6"/>
<line x1="1605.7" y1="1080" x2="1605.7" y2="1835" stroke="#d2d2d2" stroke-width="1.4" stroke-dasharray="2 2.6"/>
<line x1="1760.6" y1="1080" x2="1760.6" y2="1835" stroke="#d2d2d2" stroke-width="1.4" stroke-dasharray="2 2.6"/>
<line x1="1915.4" y1="1080" x2="1915.4" y2="1835" stroke="#d2d2d2" stroke-width="1.4" stroke-dasharray="2 2.6"/>
<line x1="2070.3" y1="1080" x2="2070.3" y2="1835" stroke="#d2d2d2" stroke-width="1.4" stroke-dasharray="2 2.6"/>
<line x1="2225.1" y1="1080" x2="2225.1" y2="1835" stroke="#d2d2d2" stroke-width="1.4" stroke-dasharray="2 2.6"/>
<line x1="1296" y1="1727.1" x2="2380" y2="1727.1" stroke="#d2d2d2" stroke-width="1.4" stroke-dasharray="2 2.6"/>
<line x1="1296" y1="1619.3" x2="2380" y2="1619.3" stroke="#d2d2d2" stroke-width="1.4" stroke-dasharray="2 2.6"/>
<line x1="1296" y1="1511.4" x2="2380" y2="1511.4" stroke="#d2d2d2" stroke-width="1.4" stroke-dasharray="2 2.6"/>
<line x1="1296" y1="1403.6" x2="2380" y2="1403.6" stroke="#d2d2d2" stroke-width="1.4" stroke-dasharray="2 2.6"/>
<line x1="1296" y1="1295.7" x2="2380" y2="1295.7" stroke="#d2d2d2" stroke-width="1.4" stroke-dasharray="2 2.6"/>
<line x1="1296" y1="1187.9" x2="2380" y2="1187.9" stroke="#d2d2d2" stroke-width="1.4" stroke-dasharray="2 2.6"/>
<polygon points="221.7,1712.4 224.6,1696.7 209.9,1690.8 217.8,1681.0 233.5,1673.1 243.3,1681.0 247.3,1677.0 251.2,1665.2 255.1,1655.4 265.0,1645.6 278.7,1635.7 288.6,1623.9 308.2,1623.9 320.0,1618.0 337.7,1594.4 347.6,1578.7 359.4,1574.7 369.2,1564.9 377.1,1551.1 380.0,1550.0 394.0,1557.0 398.7,1568.8 412.8,1568.8 424.5,1563.0 426.8,1552.4 430.3,1548.9 430.3,1536.0 437.4,1531.3 430.3,1522.0 436.2,1512.6 437.4,1500.9 445.6,1497.4 454.9,1503.2 459.6,1510.2 471.3,1509.1 477.2,1512.6 477.2,1500.9 481.8,1491.5 492.4,1488.0 505.3,1488.0 506.4,1478.6 515.8,1471.6 525.2,1478.6 531.0,1482.1 536.9,1477.5 543.9,1478.6 546.2,1466.9 554.4,1462.2 563.8,1471.6 569.6,1472.8 574.3,1466.9 581.4,1455.2 591.9,1450.5 598.9,1449.4 604.8,1444.7 613.0,1440.0 622.5,1436.8 626.2,1462.8 620.0,1479.8 615.3,1485.7 607.1,1479.8 607.1,1495.0 597.7,1499.7 589.6,1499.7 582.5,1505.6 572.0,1499.7 562.6,1496.2 554.4,1496.2 550.9,1505.6 548.6,1514.9 541.6,1517.3 541.6,1527.8 531.0,1533.7 527.5,1541.8 514.6,1541.8 510.0,1533.7 505.3,1540.7 494.7,1545.4 481.8,1547.7 473.7,1555.9 469.0,1567.6 462.0,1571.1 454.9,1580.5 445.6,1587.5 445.6,1595.7 444.4,1605.1 433.9,1610.9 418.6,1613.3 415.1,1619.1 403.4,1620.3 394.0,1618.0 387.0,1628.5 380.0,1633.2 379.0,1625.9 367.2,1641.6 351.5,1651.5 341.7,1657.4 339.7,1667.2 331.8,1677.0 316.1,1679.0 312.2,1690.8 292.5,1704.6 278.7,1708.5 265.0,1712.4 253.2,1716.4 243.3,1726.2 233.5,1726.2 221.7,1720.3" fill="#0070c0"/>
<polygon points="1435.0,1712.7 1437.9,1697.1 1423.1,1691.2 1431.0,1681.4 1446.9,1673.5 1456.8,1681.4 1460.8,1677.4 1464.8,1665.6 1468.7,1655.9 1478.7,1646.1 1492.5,1636.2 1502.5,1624.5 1522.3,1624.5 1534.2,1618.6 1552.1,1595.0 1562.1,1579.4 1574.0,1575.4 1583.9,1565.6 1591.8,1551.9 1594.8,1550.8 1608.9,1557.7 1613.6,1569.5 1627.9,1569.5 1639.7,1563.7 1642.0,1553.1 1645.5,1549.7 1645.5,1536.8 1652.7,1532.1 1645.5,1522.8 1651.5,1513.5 1652.7,1501.8 1661.0,1498.3 1670.4,1504.1 1675.1,1511.1 1686.9,1510.0 1692.9,1513.5 1692.9,1501.8 1697.5,1492.4 1708.2,1488.9 1721.2,1488.9 1722.3,1479.5 1731.8,1472.6 1741.3,1479.5 1747.2,1483.0 1753.1,1478.4 1760.2,1479.5 1762.5,1467.9 1770.8,1463.2 1780.3,1472.6 1786.1,1473.8 1790.9,1467.9 1798.0,1456.2 1808.6,1451.5 1815.7,1450.4 1821.6,1445.7 1829.9,1441.0 1839.5,1437.9 1843.2,1463.8 1837.0,1480.7 1832.2,1486.6 1824.0,1480.7 1824.0,1495.9 1814.5,1500.6 1806.3,1500.6 1799.1,1506.5 1788.5,1500.6 1779.1,1497.1 1770.8,1497.1 1767.2,1506.5 1764.9,1515.7 1757.9,1518.1 1757.9,1528.6 1747.2,1534.5 1743.6,1542.6 1730.6,1542.6 1726.0,1534.5 1721.2,1541.5 1710.5,1546.2 1697.5,1548.5 1689.3,1556.6 1684.6,1568.3 1677.5,1571.8 1670.4,1581.2 1661.0,1588.2 1661.0,1596.3 1659.8,1605.7 1649.2,1611.5 1633.7,1613.9 1630.2,1619.7 1618.4,1620.9 1608.9,1618.6 1601.8,1629.0 1594.8,1633.7 1593.7,1626.5 1581.8,1642.1 1566.0,1652.0 1556.1,1657.9 1554.1,1667.6 1546.1,1677.4 1530.3,1679.4 1526.3,1691.2 1506.4,1704.9 1492.5,1708.8 1478.7,1712.7 1466.8,1716.7 1456.8,1726.5 1446.9,1726.5 1435.0,1720.6" fill="#0070c0"/>
<path fill="#0070c0" d="M237.3 1584.4h8.2l5.9 5.9v8.2l-5.9 5.9h-8.2l-5.9-5.9v-8.2zM318.9 1571.0h8.2l5.9 5.9v8.2l-5.9 5.9h-8.2l-5.9-5.9v-8.2zM318.9 1601.1h8.2l5.9 5.9v8.2l-5.9 5.9h-8.2l-5.9-5.9v-8.2zM355.3 1529.3h8.2l5.9 5.9v8.2l-5.9 5.9h-8.2l-5.9-5.9v-8.2zM375.9 1514.6h8.2l5.9 5.9v8.2l-5.9 5.9h-8.2l-5.9-5.9v-8.2zM474.3 1605.1h8.2l5.9 5.9v8.2l-5.9 5.9h-8.2l-5.9-5.9v-8.2zM212.7 1680.8h8.2l5.9 5.9v8.2l-5.9 5.9h-8.2l-5.9-5.9v-8.2zM230.4 1671.0h8.2l5.9 5.9v8.2l-5.9 5.9h-8.2l-5.9-5.9v-8.2zM225.5 1701.4h8.2l5.9 5.9v8.2l-5.9 5.9h-8.2l-5.9-5.9v-8.2zM235.3 1706.4h8.2l5.9 5.9v8.2l-5.9 5.9h-8.2l-5.9-5.9v-8.2zM229.4 1690.6h8.2l5.9 5.9v8.2l-5.9 5.9h-8.2l-5.9-5.9v-8.2zM247.1 1696.5h8.2l5.9 5.9v8.2l-5.9 5.9h-8.2l-5.9-5.9v-8.2zM260.9 1694.6h8.2l5.9 5.9v8.2l-5.9 5.9h-8.2l-5.9-5.9v-8.2zM279.5 1690.6h8.2l5.9 5.9v8.2l-5.9 5.9h-8.2l-5.9-5.9v-8.2zM300.2 1674.9h8.2l5.9 5.9v8.2l-5.9 5.9h-8.2l-5.9-5.9v-8.2zM253.0 1678.8h8.2l5.9 5.9v8.2l-5.9 5.9h-8.2l-5.9-5.9v-8.2zM258.9 1647.4h8.2l5.9 5.9v8.2l-5.9 5.9h-8.2l-5.9-5.9v-8.2zM266.8 1641.5h8.2l5.9 5.9v8.2l-5.9 5.9h-8.2l-5.9-5.9v-8.2zM282.5 1627.7h8.2l5.9 5.9v8.2l-5.9 5.9h-8.2l-5.9-5.9v-8.2zM294.3 1619.8h8.2l5.9 5.9v8.2l-5.9 5.9h-8.2l-5.9-5.9v-8.2zM312.0 1619.8h8.2l5.9 5.9v8.2l-5.9 5.9h-8.2l-5.9-5.9v-8.2zM327.7 1608.0h8.2l5.9 5.9v8.2l-5.9 5.9h-8.2l-5.9-5.9v-8.2zM343.5 1588.3h8.2l5.9 5.9v8.2l-5.9 5.9h-8.2l-5.9-5.9v-8.2zM353.3 1572.6h8.2l5.9 5.9v8.2l-5.9 5.9h-8.2l-5.9-5.9v-8.2zM374.9 1558.8h8.2l5.9 5.9v8.2l-5.9 5.9h-8.2l-5.9-5.9v-8.2zM380.8 1549.0h8.2l5.9 5.9v8.2l-5.9 5.9h-8.2l-5.9-5.9v-8.2zM402.5 1566.7h8.2l5.9 5.9v8.2l-5.9 5.9h-8.2l-5.9-5.9v-8.2zM430.0 1549.0h8.2l5.9 5.9v8.2l-5.9 5.9h-8.2l-5.9-5.9v-8.2zM434.0 1529.3h8.2l5.9 5.9v8.2l-5.9 5.9h-8.2l-5.9-5.9v-8.2zM439.9 1497.9h8.2l5.9 5.9v8.2l-5.9 5.9h-8.2l-5.9-5.9v-8.2zM453.6 1515.6h8.2l5.9 5.9v8.2l-5.9 5.9h-8.2l-5.9-5.9v-8.2zM483.1 1497.9h8.2l5.9 5.9v8.2l-5.9 5.9h-8.2l-5.9-5.9v-8.2zM463.5 1537.2h8.2l5.9 5.9v8.2l-5.9 5.9h-8.2l-5.9-5.9v-8.2zM445.8 1564.7h8.2l5.9 5.9v8.2l-5.9 5.9h-8.2l-5.9-5.9v-8.2zM432.0 1588.3h8.2l5.9 5.9v8.2l-5.9 5.9h-8.2l-5.9-5.9v-8.2zM422.1 1594.2h8.2l5.9 5.9v8.2l-5.9 5.9h-8.2l-5.9-5.9v-8.2zM402.5 1602.1h8.2l5.9 5.9v8.2l-5.9 5.9h-8.2l-5.9-5.9v-8.2zM374.9 1615.9h8.2l5.9 5.9v8.2l-5.9 5.9h-8.2l-5.9-5.9v-8.2zM363.1 1627.7h8.2l5.9 5.9v8.2l-5.9 5.9h-8.2l-5.9-5.9v-8.2zM345.4 1635.6h8.2l5.9 5.9v8.2l-5.9 5.9h-8.2l-5.9-5.9v-8.2zM327.7 1657.2h8.2l5.9 5.9v8.2l-5.9 5.9h-8.2l-5.9-5.9v-8.2zM319.9 1663.1h8.2l5.9 5.9v8.2l-5.9 5.9h-8.2l-5.9-5.9v-8.2zM296.3 1647.4h8.2l5.9 5.9v8.2l-5.9 5.9h-8.2l-5.9-5.9v-8.2zM276.6 1657.2h8.2l5.9 5.9v8.2l-5.9 5.9h-8.2l-5.9-5.9v-8.2zM266.8 1667.0h8.2l5.9 5.9v8.2l-5.9 5.9h-8.2l-5.9-5.9v-8.2zM286.4 1637.5h8.2l5.9 5.9v8.2l-5.9 5.9h-8.2l-5.9-5.9v-8.2zM306.1 1631.6h8.2l5.9 5.9v8.2l-5.9 5.9h-8.2l-5.9-5.9v-8.2zM315.9 1643.4h8.2l5.9 5.9v8.2l-5.9 5.9h-8.2l-5.9-5.9v-8.2zM335.6 1627.7h8.2l5.9 5.9v8.2l-5.9 5.9h-8.2l-5.9-5.9v-8.2zM345.4 1612.0h8.2l5.9 5.9v8.2l-5.9 5.9h-8.2l-5.9-5.9v-8.2zM359.2 1600.1h8.2l5.9 5.9v8.2l-5.9 5.9h-8.2l-5.9-5.9v-8.2zM365.1 1584.4h8.2l5.9 5.9v8.2l-5.9 5.9h-8.2l-5.9-5.9v-8.2zM384.8 1584.4h8.2l5.9 5.9v8.2l-5.9 5.9h-8.2l-5.9-5.9v-8.2zM394.6 1572.6h8.2l5.9 5.9v8.2l-5.9 5.9h-8.2l-5.9-5.9v-8.2zM414.3 1568.7h8.2l5.9 5.9v8.2l-5.9 5.9h-8.2l-5.9-5.9v-8.2zM434.0 1558.8h8.2l5.9 5.9v8.2l-5.9 5.9h-8.2l-5.9-5.9v-8.2zM453.6 1549.0h8.2l5.9 5.9v8.2l-5.9 5.9h-8.2l-5.9-5.9v-8.2zM473.3 1519.5h8.2l5.9 5.9v8.2l-5.9 5.9h-8.2l-5.9-5.9v-8.2zM493.0 1509.7h8.2l5.9 5.9v8.2l-5.9 5.9h-8.2l-5.9-5.9v-8.2zM378.9 1600.1h8.2l5.9 5.9v8.2l-5.9 5.9h-8.2l-5.9-5.9v-8.2zM325.8 1639.5h8.2l5.9 5.9v8.2l-5.9 5.9h-8.2l-5.9-5.9v-8.2zM306.1 1657.2h8.2l5.9 5.9v8.2l-5.9 5.9h-8.2l-5.9-5.9v-8.2zM296.3 1667.0h8.2l5.9 5.9v8.2l-5.9 5.9h-8.2l-5.9-5.9v-8.2zM355.6 1528.8h8.2l5.9 5.9v8.2l-5.9 5.9h-8.2l-5.9-5.9v-8.2zM375.6 1514.9h8.2l5.9 5.9v8.2l-5.9 5.9h-8.2l-5.9-5.9v-8.2zM380.2 1546.4h8.2l5.9 5.9v8.2l-5.9 5.9h-8.2l-5.9-5.9v-8.2zM441.4 1496.3h8.2l5.9 5.9v8.2l-5.9 5.9h-8.2l-5.9-5.9v-8.2zM436.8 1510.2h8.2l5.9 5.9v8.2l-5.9 5.9h-8.2l-5.9-5.9v-8.2zM444.2 1528.8h8.2l5.9 5.9v8.2l-5.9 5.9h-8.2l-5.9-5.9v-8.2zM433.1 1534.3h8.2l5.9 5.9v8.2l-5.9 5.9h-8.2l-5.9-5.9v-8.2zM429.4 1545.4h8.2l5.9 5.9v8.2l-5.9 5.9h-8.2l-5.9-5.9v-8.2zM457.2 1538.0h8.2l5.9 5.9v8.2l-5.9 5.9h-8.2l-5.9-5.9v-8.2zM464.6 1508.4h8.2l5.9 5.9v8.2l-5.9 5.9h-8.2l-5.9-5.9v-8.2zM472.0 1523.2h8.2l5.9 5.9v8.2l-5.9 5.9h-8.2l-5.9-5.9v-8.2zM485.0 1488.0h8.2l5.9 5.9v8.2l-5.9 5.9h-8.2l-5.9-5.9v-8.2zM499.8 1488.0h8.2l5.9 5.9v8.2l-5.9 5.9h-8.2l-5.9-5.9v-8.2zM490.5 1501.0h8.2l5.9 5.9v8.2l-5.9 5.9h-8.2l-5.9-5.9v-8.2zM492.4 1525.1h8.2l5.9 5.9v8.2l-5.9 5.9h-8.2l-5.9-5.9v-8.2zM507.2 1499.1h8.2l5.9 5.9v8.2l-5.9 5.9h-8.2l-5.9-5.9v-8.2zM510.9 1470.4h8.2l5.9 5.9v8.2l-5.9 5.9h-8.2l-5.9-5.9v-8.2zM518.3 1480.6h8.2l5.9 5.9v8.2l-5.9 5.9h-8.2l-5.9-5.9v-8.2zM516.5 1523.2h8.2l5.9 5.9v8.2l-5.9 5.9h-8.2l-5.9-5.9v-8.2zM529.4 1513.0h8.2l5.9 5.9v8.2l-5.9 5.9h-8.2l-5.9-5.9v-8.2zM536.9 1495.4h8.2l5.9 5.9v8.2l-5.9 5.9h-8.2l-5.9-5.9v-8.2zM535.0 1475.0h8.2l5.9 5.9v8.2l-5.9 5.9h-8.2l-5.9-5.9v-8.2zM548.9 1442.6h8.2l5.9 5.9v8.2l-5.9 5.9h-8.2l-5.9-5.9v-8.2zM548.9 1461.1h8.2l5.9 5.9v8.2l-5.9 5.9h-8.2l-5.9-5.9v-8.2zM546.1 1476.9h8.2l5.9 5.9v8.2l-5.9 5.9h-8.2l-5.9-5.9v-8.2zM562.8 1473.2h8.2l5.9 5.9v8.2l-5.9 5.9h-8.2l-5.9-5.9v-8.2zM576.7 1487.1h8.2l5.9 5.9v8.2l-5.9 5.9h-8.2l-5.9-5.9v-8.2zM577.6 1460.2h8.2l5.9 5.9v8.2l-5.9 5.9h-8.2l-5.9-5.9v-8.2zM585.1 1449.1h8.2l5.9 5.9v8.2l-5.9 5.9h-8.2l-5.9-5.9v-8.2zM594.3 1478.7h8.2l5.9 5.9v8.2l-5.9 5.9h-8.2l-5.9-5.9v-8.2zM601.7 1443.5h8.2l5.9 5.9v8.2l-5.9 5.9h-8.2l-5.9-5.9v-8.2zM590.6 1414.8h8.2l5.9 5.9v8.2l-5.9 5.9h-8.2l-5.9-5.9v-8.2zM616.6 1435.2h8.2l5.9 5.9v8.2l-5.9 5.9h-8.2l-5.9-5.9v-8.2zM613.8 1466.7h8.2l5.9 5.9v8.2l-5.9 5.9h-8.2l-5.9-5.9v-8.2zM637.0 1446.3h8.2l5.9 5.9v8.2l-5.9 5.9h-8.2l-5.9-5.9v-8.2zM623.1 1386.0h8.2l5.9 5.9v8.2l-5.9 5.9h-8.2l-5.9-5.9v-8.2zM654.6 1374.9h8.2l5.9 5.9v8.2l-5.9 5.9h-8.2l-5.9-5.9v-8.2zM654.6 1404.6h8.2l5.9 5.9v8.2l-5.9 5.9h-8.2l-5.9-5.9v-8.2zM670.3 1365.7h8.2l5.9 5.9v8.2l-5.9 5.9h-8.2l-5.9-5.9v-8.2zM673.1 1334.1h8.2l5.9 5.9v8.2l-5.9 5.9h-8.2l-5.9-5.9v-8.2zM681.4 1348.0h8.2l5.9 5.9v8.2l-5.9 5.9h-8.2l-5.9-5.9v-8.2zM692.6 1347.1h8.2l5.9 5.9v8.2l-5.9 5.9h-8.2l-5.9-5.9v-8.2zM696.3 1369.4h8.2l5.9 5.9v8.2l-5.9 5.9h-8.2l-5.9-5.9v-8.2zM670.7 1366.1h8.2l5.9 5.9v8.2l-5.9 5.9h-8.2l-5.9-5.9v-8.2zM658.7 1405.1h8.2l5.9 5.9v8.2l-5.9 5.9h-8.2l-5.9-5.9v-8.2zM673.5 1334.6h8.2l5.9 5.9v8.2l-5.9 5.9h-8.2l-5.9-5.9v-8.2zM693.9 1346.7h8.2l5.9 5.9v8.2l-5.9 5.9h-8.2l-5.9-5.9v-8.2zM704.1 1368.9h8.2l5.9 5.9v8.2l-5.9 5.9h-8.2l-5.9-5.9v-8.2zM713.4 1355.0h8.2l5.9 5.9v8.2l-5.9 5.9h-8.2l-5.9-5.9v-8.2zM734.7 1355.0h8.2l5.9 5.9v8.2l-5.9 5.9h-8.2l-5.9-5.9v-8.2zM699.5 1309.6h8.2l5.9 5.9v8.2l-5.9 5.9h-8.2l-5.9-5.9v-8.2zM713.4 1279.0h8.2l5.9 5.9v8.2l-5.9 5.9h-8.2l-5.9-5.9v-8.2zM730.0 1269.7h8.2l5.9 5.9v8.2l-5.9 5.9h-8.2l-5.9-5.9v-8.2zM742.1 1263.3h8.2l5.9 5.9v8.2l-5.9 5.9h-8.2l-5.9-5.9v-8.2zM726.3 1304.0h8.2l5.9 5.9v8.2l-5.9 5.9h-8.2l-5.9-5.9v-8.2zM740.2 1294.8h8.2l5.9 5.9v8.2l-5.9 5.9h-8.2l-5.9-5.9v-8.2zM755.1 1307.7h8.2l5.9 5.9v8.2l-5.9 5.9h-8.2l-5.9-5.9v-8.2zM745.8 1318.0h8.2l5.9 5.9v8.2l-5.9 5.9h-8.2l-5.9-5.9v-8.2zM748.6 1328.1h8.2l5.9 5.9v8.2l-5.9 5.9h-8.2l-5.9-5.9v-8.2zM762.5 1240.1h8.2l5.9 5.9v8.2l-5.9 5.9h-8.2l-5.9-5.9v-8.2zM763.4 1252.1h8.2l5.9 5.9v8.2l-5.9 5.9h-8.2l-5.9-5.9v-8.2zM774.5 1269.7h8.2l5.9 5.9v8.2l-5.9 5.9h-8.2l-5.9-5.9v-8.2zM769.9 1280.9h8.2l5.9 5.9v8.2l-5.9 5.9h-8.2l-5.9-5.9v-8.2zM774.5 1293.8h8.2l5.9 5.9v8.2l-5.9 5.9h-8.2l-5.9-5.9v-8.2zM789.4 1294.8h8.2l5.9 5.9v8.2l-5.9 5.9h-8.2l-5.9-5.9v-8.2zM804.2 1290.1h8.2l5.9 5.9v8.2l-5.9 5.9h-8.2l-5.9-5.9v-8.2zM807.0 1301.3h8.2l5.9 5.9v8.2l-5.9 5.9h-8.2l-5.9-5.9v-8.2zM787.5 1312.4h8.2l5.9 5.9v8.2l-5.9 5.9h-8.2l-5.9-5.9v-8.2zM804.2 1248.4h8.2l5.9 5.9v8.2l-5.9 5.9h-8.2l-5.9-5.9v-8.2zM819.0 1228.6h8.2l5.9 5.9v8.2l-5.9 5.9h-8.2l-5.9-5.9v-8.2zM838.5 1228.6h8.2l5.9 5.9v8.2l-5.9 5.9h-8.2l-5.9-5.9v-8.2zM857.9 1229.9h8.2l5.9 5.9v8.2l-5.9 5.9h-8.2l-5.9-5.9v-8.2zM859.8 1243.8h8.2l5.9 5.9v8.2l-5.9 5.9h-8.2l-5.9-5.9v-8.2zM871.8 1258.6h8.2l5.9 5.9v8.2l-5.9 5.9h-8.2l-5.9-5.9v-8.2zM862.6 1269.7h8.2l5.9 5.9v8.2l-5.9 5.9h-8.2l-5.9-5.9v-8.2zM874.6 1196.5h8.2l5.9 5.9v8.2l-5.9 5.9h-8.2l-5.9-5.9v-8.2zM897.8 1201.2h8.2l5.9 5.9v8.2l-5.9 5.9h-8.2l-5.9-5.9v-8.2zM905.2 1219.7h8.2l5.9 5.9v8.2l-5.9 5.9h-8.2l-5.9-5.9v-8.2zM915.4 1214.1h8.2l5.9 5.9v8.2l-5.9 5.9h-8.2l-5.9-5.9v-8.2zM930.2 1212.3h8.2l5.9 5.9v8.2l-5.9 5.9h-8.2l-5.9-5.9v-8.2zM930.2 1227.1h8.2l5.9 5.9v8.2l-5.9 5.9h-8.2l-5.9-5.9v-8.2zM945.1 1208.6h8.2l5.9 5.9v8.2l-5.9 5.9h-8.2l-5.9-5.9v-8.2zM959.9 1203.0h8.2l5.9 5.9v8.2l-5.9 5.9h-8.2l-5.9-5.9v-8.2zM952.5 1229.9h8.2l5.9 5.9v8.2l-5.9 5.9h-8.2l-5.9-5.9v-8.2zM974.7 1208.6h8.2l5.9 5.9v8.2l-5.9 5.9h-8.2l-5.9-5.9v-8.2zM972.9 1180.8h8.2l5.9 5.9v8.2l-5.9 5.9h-8.2l-5.9-5.9v-8.2zM1006.2 1186.3h8.2l5.9 5.9v8.2l-5.9 5.9h-8.2l-5.9-5.9v-8.2zM1020.1 1189.1h8.2l5.9 5.9v8.2l-5.9 5.9h-8.2l-5.9-5.9v-8.2zM746.7 1391.2h8.2l5.9 5.9v8.2l-5.9 5.9h-8.2l-5.9-5.9v-8.2zM739.3 1404.1h8.2l5.9 5.9v8.2l-5.9 5.9h-8.2l-5.9-5.9v-8.2zM1009.8 1083.3h8.2l5.9 5.9v8.2l-5.9 5.9h-8.2l-5.9-5.9v-8.2zM1017.4 1099.3h8.2l5.9 5.9v8.2l-5.9 5.9h-8.2l-5.9-5.9v-8.2zM991.4 1112.2h8.2l5.9 5.9v8.2l-5.9 5.9h-8.2l-5.9-5.9v-8.2zM1029.0 1130.6h8.2l5.9 5.9v8.2l-5.9 5.9h-8.2l-5.9-5.9v-8.2zM1025.2 1140.3h8.2l5.9 5.9v8.2l-5.9 5.9h-8.2l-5.9-5.9v-8.2zM1028.3 1134.7h8.2l5.9 5.9v8.2l-5.9 5.9h-8.2l-5.9-5.9v-8.2zM973.0 1181.3h8.2l5.9 5.9v8.2l-5.9 5.9h-8.2l-5.9-5.9v-8.2zM1006.0 1186.2h8.2l5.9 5.9v8.2l-5.9 5.9h-8.2l-5.9-5.9v-8.2zM1020.6 1188.7h8.2l5.9 5.9v8.2l-5.9 5.9h-8.2l-5.9-5.9v-8.2zM874.7 1196.6h8.2l5.9 5.9v8.2l-5.9 5.9h-8.2l-5.9-5.9v-8.2zM897.6 1200.8h8.2l5.9 5.9v8.2l-5.9 5.9h-8.2l-5.9-5.9v-8.2zM974.1 1208.4h8.2l5.9 5.9v8.2l-5.9 5.9h-8.2l-5.9-5.9v-8.2zM961.6 1204.2h8.2l5.9 5.9v8.2l-5.9 5.9h-8.2l-5.9-5.9v-8.2zM947.7 1207.0h8.2l5.9 5.9v8.2l-5.9 5.9h-8.2l-5.9-5.9v-8.2zM931.7 1211.2h8.2l5.9 5.9v8.2l-5.9 5.9h-8.2l-5.9-5.9v-8.2zM914.3 1215.4h8.2l5.9 5.9v8.2l-5.9 5.9h-8.2l-5.9-5.9v-8.2zM904.6 1219.5h8.2l5.9 5.9v8.2l-5.9 5.9h-8.2l-5.9-5.9v-8.2zM956.0 1214.0h8.2l5.9 5.9v8.2l-5.9 5.9h-8.2l-5.9-5.9v-8.2zM953.2 1226.5h8.2l5.9 5.9v8.2l-5.9 5.9h-8.2l-5.9-5.9v-8.2zM860.1 1226.5h8.2l5.9 5.9v8.2l-5.9 5.9h-8.2l-5.9-5.9v-8.2zM549.7 1442.3h8.2l5.9 5.9v8.2l-5.9 5.9h-8.2l-5.9-5.9v-8.2zM549.7 1461.6h8.2l5.9 5.9v8.2l-5.9 5.9h-8.2l-5.9-5.9v-8.2zM511.1 1469.8h8.2l5.9 5.9v8.2l-5.9 5.9h-8.2l-5.9-5.9v-8.2zM533.9 1476.8h8.2l5.9 5.9v8.2l-5.9 5.9h-8.2l-5.9-5.9v-8.2zM537.5 1495.6h8.2l5.9 5.9v8.2l-5.9 5.9h-8.2l-5.9-5.9v-8.2zM560.9 1474.5h8.2l5.9 5.9v8.2l-5.9 5.9h-8.2l-5.9-5.9v-8.2zM577.3 1488.5h8.2l5.9 5.9v8.2l-5.9 5.9h-8.2l-5.9-5.9v-8.2zM593.6 1480.3h8.2l5.9 5.9v8.2l-5.9 5.9h-8.2l-5.9-5.9v-8.2zM584.3 1453.4h8.2l5.9 5.9v8.2l-5.9 5.9h-8.2l-5.9-5.9v-8.2zM598.3 1444.0h8.2l5.9 5.9v8.2l-5.9 5.9h-8.2l-5.9-5.9v-8.2zM610.0 1437.0h8.2l5.9 5.9v8.2l-5.9 5.9h-8.2l-5.9-5.9v-8.2zM610.0 1467.5h8.2l5.9 5.9v8.2l-5.9 5.9h-8.2l-5.9-5.9v-8.2zM572.6 1462.8h8.2l5.9 5.9v8.2l-5.9 5.9h-8.2l-5.9-5.9v-8.2zM550.3 1476.8h8.2l5.9 5.9v8.2l-5.9 5.9h-8.2l-5.9-5.9v-8.2zM485.9 1487.4h8.2l5.9 5.9v8.2l-5.9 5.9h-8.2l-5.9-5.9v-8.2zM497.7 1487.4h8.2l5.9 5.9v8.2l-5.9 5.9h-8.2l-5.9-5.9v-8.2zM481.3 1497.9h8.2l5.9 5.9v8.2l-5.9 5.9h-8.2l-5.9-5.9v-8.2zM504.7 1500.2h8.2l5.9 5.9v8.2l-5.9 5.9h-8.2l-5.9-5.9v-8.2zM530.4 1511.9h8.2l5.9 5.9v8.2l-5.9 5.9h-8.2l-5.9-5.9v-8.2zM516.4 1523.7h8.2l5.9 5.9v8.2l-5.9 5.9h-8.2l-5.9-5.9v-8.2zM494.1 1523.7h8.2l5.9 5.9v8.2l-5.9 5.9h-8.2l-5.9-5.9v-8.2zM441.5 1496.7h8.2l5.9 5.9v8.2l-5.9 5.9h-8.2l-5.9-5.9v-8.2zM435.6 1512.0h8.2l5.9 5.9v8.2l-5.9 5.9h-8.2l-5.9-5.9v-8.2zM464.9 1508.4h8.2l5.9 5.9v8.2l-5.9 5.9h-8.2l-5.9-5.9v-8.2zM469.6 1523.7h8.2l5.9 5.9v8.2l-5.9 5.9h-8.2l-5.9-5.9v-8.2zM457.9 1535.4h8.2l5.9 5.9v8.2l-5.9 5.9h-8.2l-5.9-5.9v-8.2zM434.4 1533.0h8.2l5.9 5.9v8.2l-5.9 5.9h-8.2l-5.9-5.9v-8.2zM430.9 1547.1h8.2l5.9 5.9v8.2l-5.9 5.9h-8.2l-5.9-5.9v-8.2zM446.1 1547.1h8.2l5.9 5.9v8.2l-5.9 5.9h-8.2l-5.9-5.9v-8.2zM457.9 1550.6h8.2l5.9 5.9v8.2l-5.9 5.9h-8.2l-5.9-5.9v-8.2zM446.1 1564.6h8.2l5.9 5.9v8.2l-5.9 5.9h-8.2l-5.9-5.9v-8.2zM428.6 1564.6h8.2l5.9 5.9v8.2l-5.9 5.9h-8.2l-5.9-5.9v-8.2zM411.0 1564.6h8.2l5.9 5.9v8.2l-5.9 5.9h-8.2l-5.9-5.9v-8.2zM399.3 1567.0h8.2l5.9 5.9v8.2l-5.9 5.9h-8.2l-5.9-5.9v-8.2zM382.9 1547.1h8.2l5.9 5.9v8.2l-5.9 5.9h-8.2l-5.9-5.9v-8.2zM379.4 1514.3h8.2l5.9 5.9v8.2l-5.9 5.9h-8.2l-5.9-5.9v-8.2zM385.3 1582.2h8.2l5.9 5.9v8.2l-5.9 5.9h-8.2l-5.9-5.9v-8.2zM402.8 1582.2h8.2l5.9 5.9v8.2l-5.9 5.9h-8.2l-5.9-5.9v-8.2zM432.1 1589.2h8.2l5.9 5.9v8.2l-5.9 5.9h-8.2l-5.9-5.9v-8.2zM422.7 1596.2h8.2l5.9 5.9v8.2l-5.9 5.9h-8.2l-5.9-5.9v-8.2zM404.0 1603.3h8.2l5.9 5.9v8.2l-5.9 5.9h-8.2l-5.9-5.9v-8.2zM474.2 1605.0h8.2l5.9 5.9v8.2l-5.9 5.9h-8.2l-5.9-5.9v-8.2zM378.2 1617.3h8.2l5.9 5.9v8.2l-5.9 5.9h-8.2l-5.9-5.9v-8.2zM762.6 1254.9h8.2l5.9 5.9v8.2l-5.9 5.9h-8.2l-5.9-5.9v-8.2zM770.0 1273.5h8.2l5.9 5.9v8.2l-5.9 5.9h-8.2l-5.9-5.9v-8.2zM757.1 1260.5h8.2l5.9 5.9v8.2l-5.9 5.9h-8.2l-5.9-5.9v-8.2zM918.3 1217.8h8.2l5.9 5.9v8.2l-5.9 5.9h-8.2l-5.9-5.9v-8.2zM936.9 1210.4h8.2l5.9 5.9v8.2l-5.9 5.9h-8.2l-5.9-5.9v-8.2zM951.7 1214.1h8.2l5.9 5.9v8.2l-5.9 5.9h-8.2l-5.9-5.9v-8.2zM942.4 1227.1h8.2l5.9 5.9v8.2l-5.9 5.9h-8.2l-5.9-5.9v-8.2zM1026.9 1137.0h8.2l5.9 5.9v8.2l-5.9 5.9h-8.2l-5.9-5.9v-8.2zM102.5 1530.3h8.2l5.9 5.9v8.2l-5.9 5.9h-8.2l-5.9-5.9v-8.2zM97.6 1601.7h8.2l5.9 5.9v8.2l-5.9 5.9h-8.2l-5.9-5.9v-8.2zM111.4 1706.4h8.2l5.9 5.9v8.2l-5.9 5.9h-8.2l-5.9-5.9v-8.2zM119.2 1718.2h8.2l5.9 5.9v8.2l-5.9 5.9h-8.2l-5.9-5.9v-8.2zM111.4 1752.6h8.2l5.9 5.9v8.2l-5.9 5.9h-8.2l-5.9-5.9v-8.2zM107.0 1770.3h8.2l5.9 5.9v8.2l-5.9 5.9h-8.2l-5.9-5.9v-8.2zM136.0 1767.3h8.2l5.9 5.9v8.2l-5.9 5.9h-8.2l-5.9-5.9v-8.2zM132.0 1778.2h8.2l5.9 5.9v8.2l-5.9 5.9h-8.2l-5.9-5.9v-8.2zM144.4 1790.0h8.2l5.9 5.9v8.2l-5.9 5.9h-8.2l-5.9-5.9v-8.2zM122.2 1798.4h8.2l5.9 5.9v8.2l-5.9 5.9h-8.2l-5.9-5.9v-8.2zM83.8 1820.4h8.2l5.9 5.9v8.2l-5.9 5.9h-8.2l-5.9-5.9v-8.2zM189.1 1739.8h8.2l5.9 5.9v8.2l-5.9 5.9h-8.2l-5.9-5.9v-8.2zM198.9 1731.0h8.2l5.9 5.9v8.2l-5.9 5.9h-8.2l-5.9-5.9v-8.2zM213.7 1734.9h8.2l5.9 5.9v8.2l-5.9 5.9h-8.2l-5.9-5.9v-8.2zM197.9 1751.6h8.2l5.9 5.9v8.2l-5.9 5.9h-8.2l-5.9-5.9v-8.2zM207.8 1753.6h8.2l5.9 5.9v8.2l-5.9 5.9h-8.2l-5.9-5.9v-8.2zM346.4 1672.9h8.2l5.9 5.9v8.2l-5.9 5.9h-8.2l-5.9-5.9v-8.2zM373.0 1664.1h8.2l5.9 5.9v8.2l-5.9 5.9h-8.2l-5.9-5.9v-8.2z"/>
<line x1="84.0" y1="1835.0" x2="1158.0" y2="1078.0" stroke="#d95319" stroke-width="2.1"/>
<path fill="#0070c0" d="M1450.8 1585.0h8.2l5.9 5.9v8.2l-5.9 5.9h-8.2l-5.9-5.9v-8.2zM1533.1 1571.7h8.2l5.9 5.9v8.2l-5.9 5.9h-8.2l-5.9-5.9v-8.2zM1533.1 1601.7h8.2l5.9 5.9v8.2l-5.9 5.9h-8.2l-5.9-5.9v-8.2zM1569.9 1530.1h8.2l5.9 5.9v8.2l-5.9 5.9h-8.2l-5.9-5.9v-8.2zM1590.7 1515.4h8.2l5.9 5.9v8.2l-5.9 5.9h-8.2l-5.9-5.9v-8.2zM1690.0 1605.7h8.2l5.9 5.9v8.2l-5.9 5.9h-8.2l-5.9-5.9v-8.2zM1425.9 1681.2h8.2l5.9 5.9v8.2l-5.9 5.9h-8.2l-5.9-5.9v-8.2zM1443.8 1671.4h8.2l5.9 5.9v8.2l-5.9 5.9h-8.2l-5.9-5.9v-8.2zM1438.9 1701.7h8.2l5.9 5.9v8.2l-5.9 5.9h-8.2l-5.9-5.9v-8.2zM1448.7 1706.7h8.2l5.9 5.9v8.2l-5.9 5.9h-8.2l-5.9-5.9v-8.2zM1442.8 1691.0h8.2l5.9 5.9v8.2l-5.9 5.9h-8.2l-5.9-5.9v-8.2zM1460.7 1696.8h8.2l5.9 5.9v8.2l-5.9 5.9h-8.2l-5.9-5.9v-8.2zM1474.6 1694.9h8.2l5.9 5.9v8.2l-5.9 5.9h-8.2l-5.9-5.9v-8.2zM1493.4 1691.0h8.2l5.9 5.9v8.2l-5.9 5.9h-8.2l-5.9-5.9v-8.2zM1514.3 1675.3h8.2l5.9 5.9v8.2l-5.9 5.9h-8.2l-5.9-5.9v-8.2zM1466.6 1679.2h8.2l5.9 5.9v8.2l-5.9 5.9h-8.2l-5.9-5.9v-8.2zM1472.6 1647.9h8.2l5.9 5.9v8.2l-5.9 5.9h-8.2l-5.9-5.9v-8.2zM1480.5 1642.0h8.2l5.9 5.9v8.2l-5.9 5.9h-8.2l-5.9-5.9v-8.2zM1496.4 1628.2h8.2l5.9 5.9v8.2l-5.9 5.9h-8.2l-5.9-5.9v-8.2zM1508.3 1620.3h8.2l5.9 5.9v8.2l-5.9 5.9h-8.2l-5.9-5.9v-8.2zM1526.2 1620.3h8.2l5.9 5.9v8.2l-5.9 5.9h-8.2l-5.9-5.9v-8.2zM1542.0 1608.6h8.2l5.9 5.9v8.2l-5.9 5.9h-8.2l-5.9-5.9v-8.2zM1558.0 1588.9h8.2l5.9 5.9v8.2l-5.9 5.9h-8.2l-5.9-5.9v-8.2zM1567.8 1573.3h8.2l5.9 5.9v8.2l-5.9 5.9h-8.2l-5.9-5.9v-8.2zM1589.6 1559.5h8.2l5.9 5.9v8.2l-5.9 5.9h-8.2l-5.9-5.9v-8.2zM1595.6 1549.7h8.2l5.9 5.9v8.2l-5.9 5.9h-8.2l-5.9-5.9v-8.2zM1617.5 1567.4h8.2l5.9 5.9v8.2l-5.9 5.9h-8.2l-5.9-5.9v-8.2zM1645.3 1549.7h8.2l5.9 5.9v8.2l-5.9 5.9h-8.2l-5.9-5.9v-8.2zM1649.3 1530.1h8.2l5.9 5.9v8.2l-5.9 5.9h-8.2l-5.9-5.9v-8.2zM1655.3 1498.8h8.2l5.9 5.9v8.2l-5.9 5.9h-8.2l-5.9-5.9v-8.2zM1669.1 1516.4h8.2l5.9 5.9v8.2l-5.9 5.9h-8.2l-5.9-5.9v-8.2zM1698.9 1498.8h8.2l5.9 5.9v8.2l-5.9 5.9h-8.2l-5.9-5.9v-8.2zM1679.1 1538.0h8.2l5.9 5.9v8.2l-5.9 5.9h-8.2l-5.9-5.9v-8.2zM1661.2 1565.4h8.2l5.9 5.9v8.2l-5.9 5.9h-8.2l-5.9-5.9v-8.2zM1647.3 1588.9h8.2l5.9 5.9v8.2l-5.9 5.9h-8.2l-5.9-5.9v-8.2zM1637.3 1594.8h8.2l5.9 5.9v8.2l-5.9 5.9h-8.2l-5.9-5.9v-8.2zM1617.5 1602.7h8.2l5.9 5.9v8.2l-5.9 5.9h-8.2l-5.9-5.9v-8.2zM1589.6 1616.5h8.2l5.9 5.9v8.2l-5.9 5.9h-8.2l-5.9-5.9v-8.2zM1577.7 1628.2h8.2l5.9 5.9v8.2l-5.9 5.9h-8.2l-5.9-5.9v-8.2zM1559.9 1636.1h8.2l5.9 5.9v8.2l-5.9 5.9h-8.2l-5.9-5.9v-8.2zM1542.0 1657.6h8.2l5.9 5.9v8.2l-5.9 5.9h-8.2l-5.9-5.9v-8.2zM1534.1 1663.5h8.2l5.9 5.9v8.2l-5.9 5.9h-8.2l-5.9-5.9v-8.2zM1510.3 1647.9h8.2l5.9 5.9v8.2l-5.9 5.9h-8.2l-5.9-5.9v-8.2zM1490.4 1657.6h8.2l5.9 5.9v8.2l-5.9 5.9h-8.2l-5.9-5.9v-8.2zM1480.5 1667.4h8.2l5.9 5.9v8.2l-5.9 5.9h-8.2l-5.9-5.9v-8.2zM1500.3 1638.0h8.2l5.9 5.9v8.2l-5.9 5.9h-8.2l-5.9-5.9v-8.2zM1520.2 1632.1h8.2l5.9 5.9v8.2l-5.9 5.9h-8.2l-5.9-5.9v-8.2zM1530.1 1643.9h8.2l5.9 5.9v8.2l-5.9 5.9h-8.2l-5.9-5.9v-8.2zM1550.0 1628.2h8.2l5.9 5.9v8.2l-5.9 5.9h-8.2l-5.9-5.9v-8.2zM1559.9 1612.6h8.2l5.9 5.9v8.2l-5.9 5.9h-8.2l-5.9-5.9v-8.2zM1573.8 1600.7h8.2l5.9 5.9v8.2l-5.9 5.9h-8.2l-5.9-5.9v-8.2zM1579.8 1585.0h8.2l5.9 5.9v8.2l-5.9 5.9h-8.2l-5.9-5.9v-8.2zM1599.6 1585.0h8.2l5.9 5.9v8.2l-5.9 5.9h-8.2l-5.9-5.9v-8.2zM1609.5 1573.3h8.2l5.9 5.9v8.2l-5.9 5.9h-8.2l-5.9-5.9v-8.2zM1629.4 1569.4h8.2l5.9 5.9v8.2l-5.9 5.9h-8.2l-5.9-5.9v-8.2zM1649.3 1559.5h8.2l5.9 5.9v8.2l-5.9 5.9h-8.2l-5.9-5.9v-8.2zM1669.1 1549.7h8.2l5.9 5.9v8.2l-5.9 5.9h-8.2l-5.9-5.9v-8.2zM1689.0 1520.3h8.2l5.9 5.9v8.2l-5.9 5.9h-8.2l-5.9-5.9v-8.2zM1708.8 1510.5h8.2l5.9 5.9v8.2l-5.9 5.9h-8.2l-5.9-5.9v-8.2zM1593.7 1600.7h8.2l5.9 5.9v8.2l-5.9 5.9h-8.2l-5.9-5.9v-8.2zM1540.1 1640.0h8.2l5.9 5.9v8.2l-5.9 5.9h-8.2l-5.9-5.9v-8.2zM1520.2 1657.6h8.2l5.9 5.9v8.2l-5.9 5.9h-8.2l-5.9-5.9v-8.2zM1510.3 1667.4h8.2l5.9 5.9v8.2l-5.9 5.9h-8.2l-5.9-5.9v-8.2zM1570.2 1529.6h8.2l5.9 5.9v8.2l-5.9 5.9h-8.2l-5.9-5.9v-8.2zM1590.4 1515.7h8.2l5.9 5.9v8.2l-5.9 5.9h-8.2l-5.9-5.9v-8.2zM1595.0 1547.1h8.2l5.9 5.9v8.2l-5.9 5.9h-8.2l-5.9-5.9v-8.2zM1656.8 1497.2h8.2l5.9 5.9v8.2l-5.9 5.9h-8.2l-5.9-5.9v-8.2zM1652.1 1511.0h8.2l5.9 5.9v8.2l-5.9 5.9h-8.2l-5.9-5.9v-8.2zM1659.6 1529.6h8.2l5.9 5.9v8.2l-5.9 5.9h-8.2l-5.9-5.9v-8.2zM1648.4 1535.1h8.2l5.9 5.9v8.2l-5.9 5.9h-8.2l-5.9-5.9v-8.2zM1644.7 1546.1h8.2l5.9 5.9v8.2l-5.9 5.9h-8.2l-5.9-5.9v-8.2zM1672.7 1538.8h8.2l5.9 5.9v8.2l-5.9 5.9h-8.2l-5.9-5.9v-8.2zM1680.2 1509.2h8.2l5.9 5.9v8.2l-5.9 5.9h-8.2l-5.9-5.9v-8.2zM1687.7 1524.0h8.2l5.9 5.9v8.2l-5.9 5.9h-8.2l-5.9-5.9v-8.2zM1700.8 1488.9h8.2l5.9 5.9v8.2l-5.9 5.9h-8.2l-5.9-5.9v-8.2zM1715.7 1488.9h8.2l5.9 5.9v8.2l-5.9 5.9h-8.2l-5.9-5.9v-8.2zM1706.3 1501.9h8.2l5.9 5.9v8.2l-5.9 5.9h-8.2l-5.9-5.9v-8.2zM1708.2 1525.9h8.2l5.9 5.9v8.2l-5.9 5.9h-8.2l-5.9-5.9v-8.2zM1723.2 1500.0h8.2l5.9 5.9v8.2l-5.9 5.9h-8.2l-5.9-5.9v-8.2zM1726.9 1471.3h8.2l5.9 5.9v8.2l-5.9 5.9h-8.2l-5.9-5.9v-8.2zM1734.4 1481.5h8.2l5.9 5.9v8.2l-5.9 5.9h-8.2l-5.9-5.9v-8.2zM1732.6 1524.0h8.2l5.9 5.9v8.2l-5.9 5.9h-8.2l-5.9-5.9v-8.2zM1745.6 1513.8h8.2l5.9 5.9v8.2l-5.9 5.9h-8.2l-5.9-5.9v-8.2zM1753.2 1496.3h8.2l5.9 5.9v8.2l-5.9 5.9h-8.2l-5.9-5.9v-8.2zM1751.2 1475.9h8.2l5.9 5.9v8.2l-5.9 5.9h-8.2l-5.9-5.9v-8.2zM1765.3 1443.6h8.2l5.9 5.9v8.2l-5.9 5.9h-8.2l-5.9-5.9v-8.2zM1765.3 1462.1h8.2l5.9 5.9v8.2l-5.9 5.9h-8.2l-5.9-5.9v-8.2zM1762.4 1477.8h8.2l5.9 5.9v8.2l-5.9 5.9h-8.2l-5.9-5.9v-8.2zM1779.3 1474.1h8.2l5.9 5.9v8.2l-5.9 5.9h-8.2l-5.9-5.9v-8.2zM1793.3 1488.0h8.2l5.9 5.9v8.2l-5.9 5.9h-8.2l-5.9-5.9v-8.2zM1794.2 1461.2h8.2l5.9 5.9v8.2l-5.9 5.9h-8.2l-5.9-5.9v-8.2zM1801.8 1450.1h8.2l5.9 5.9v8.2l-5.9 5.9h-8.2l-5.9-5.9v-8.2zM1811.1 1479.6h8.2l5.9 5.9v8.2l-5.9 5.9h-8.2l-5.9-5.9v-8.2zM1818.6 1444.5h8.2l5.9 5.9v8.2l-5.9 5.9h-8.2l-5.9-5.9v-8.2zM1807.4 1415.9h8.2l5.9 5.9v8.2l-5.9 5.9h-8.2l-5.9-5.9v-8.2zM1833.6 1436.2h8.2l5.9 5.9v8.2l-5.9 5.9h-8.2l-5.9-5.9v-8.2zM1830.8 1467.6h8.2l5.9 5.9v8.2l-5.9 5.9h-8.2l-5.9-5.9v-8.2zM1854.2 1447.3h8.2l5.9 5.9v8.2l-5.9 5.9h-8.2l-5.9-5.9v-8.2zM1840.2 1387.2h8.2l5.9 5.9v8.2l-5.9 5.9h-8.2l-5.9-5.9v-8.2zM1872.0 1376.1h8.2l5.9 5.9v8.2l-5.9 5.9h-8.2l-5.9-5.9v-8.2zM1872.0 1405.7h8.2l5.9 5.9v8.2l-5.9 5.9h-8.2l-5.9-5.9v-8.2zM1887.8 1366.9h8.2l5.9 5.9v8.2l-5.9 5.9h-8.2l-5.9-5.9v-8.2zM1890.6 1335.4h8.2l5.9 5.9v8.2l-5.9 5.9h-8.2l-5.9-5.9v-8.2zM1899.0 1349.3h8.2l5.9 5.9v8.2l-5.9 5.9h-8.2l-5.9-5.9v-8.2zM1910.3 1348.4h8.2l5.9 5.9v8.2l-5.9 5.9h-8.2l-5.9-5.9v-8.2zM1914.0 1370.6h8.2l5.9 5.9v8.2l-5.9 5.9h-8.2l-5.9-5.9v-8.2zM1888.2 1367.3h8.2l5.9 5.9v8.2l-5.9 5.9h-8.2l-5.9-5.9v-8.2zM1876.1 1406.2h8.2l5.9 5.9v8.2l-5.9 5.9h-8.2l-5.9-5.9v-8.2zM1891.0 1335.9h8.2l5.9 5.9v8.2l-5.9 5.9h-8.2l-5.9-5.9v-8.2zM1911.6 1348.0h8.2l5.9 5.9v8.2l-5.9 5.9h-8.2l-5.9-5.9v-8.2zM1921.9 1370.1h8.2l5.9 5.9v8.2l-5.9 5.9h-8.2l-5.9-5.9v-8.2zM1931.3 1356.2h8.2l5.9 5.9v8.2l-5.9 5.9h-8.2l-5.9-5.9v-8.2zM1952.8 1356.2h8.2l5.9 5.9v8.2l-5.9 5.9h-8.2l-5.9-5.9v-8.2zM1917.3 1311.0h8.2l5.9 5.9v8.2l-5.9 5.9h-8.2l-5.9-5.9v-8.2zM1931.3 1280.4h8.2l5.9 5.9v8.2l-5.9 5.9h-8.2l-5.9-5.9v-8.2zM1948.1 1271.2h8.2l5.9 5.9v8.2l-5.9 5.9h-8.2l-5.9-5.9v-8.2zM1960.3 1264.8h8.2l5.9 5.9v8.2l-5.9 5.9h-8.2l-5.9-5.9v-8.2zM1944.3 1305.4h8.2l5.9 5.9v8.2l-5.9 5.9h-8.2l-5.9-5.9v-8.2zM1958.3 1296.2h8.2l5.9 5.9v8.2l-5.9 5.9h-8.2l-5.9-5.9v-8.2zM1973.4 1309.1h8.2l5.9 5.9v8.2l-5.9 5.9h-8.2l-5.9-5.9v-8.2zM1964.0 1319.3h8.2l5.9 5.9v8.2l-5.9 5.9h-8.2l-5.9-5.9v-8.2zM1966.8 1329.4h8.2l5.9 5.9v8.2l-5.9 5.9h-8.2l-5.9-5.9v-8.2zM1980.9 1241.6h8.2l5.9 5.9v8.2l-5.9 5.9h-8.2l-5.9-5.9v-8.2zM1981.8 1253.6h8.2l5.9 5.9v8.2l-5.9 5.9h-8.2l-5.9-5.9v-8.2zM1993.0 1271.2h8.2l5.9 5.9v8.2l-5.9 5.9h-8.2l-5.9-5.9v-8.2zM1988.3 1282.3h8.2l5.9 5.9v8.2l-5.9 5.9h-8.2l-5.9-5.9v-8.2zM1993.0 1295.2h8.2l5.9 5.9v8.2l-5.9 5.9h-8.2l-5.9-5.9v-8.2zM2008.0 1296.2h8.2l5.9 5.9v8.2l-5.9 5.9h-8.2l-5.9-5.9v-8.2zM2022.9 1291.5h8.2l5.9 5.9v8.2l-5.9 5.9h-8.2l-5.9-5.9v-8.2zM2025.8 1302.7h8.2l5.9 5.9v8.2l-5.9 5.9h-8.2l-5.9-5.9v-8.2zM2006.1 1313.8h8.2l5.9 5.9v8.2l-5.9 5.9h-8.2l-5.9-5.9v-8.2zM2022.9 1249.9h8.2l5.9 5.9v8.2l-5.9 5.9h-8.2l-5.9-5.9v-8.2zM2037.9 1230.2h8.2l5.9 5.9v8.2l-5.9 5.9h-8.2l-5.9-5.9v-8.2zM2057.6 1230.2h8.2l5.9 5.9v8.2l-5.9 5.9h-8.2l-5.9-5.9v-8.2zM2077.1 1231.5h8.2l5.9 5.9v8.2l-5.9 5.9h-8.2l-5.9-5.9v-8.2zM2079.1 1245.3h8.2l5.9 5.9v8.2l-5.9 5.9h-8.2l-5.9-5.9v-8.2zM2091.2 1260.1h8.2l5.9 5.9v8.2l-5.9 5.9h-8.2l-5.9-5.9v-8.2zM2081.9 1271.2h8.2l5.9 5.9v8.2l-5.9 5.9h-8.2l-5.9-5.9v-8.2zM2094.0 1198.2h8.2l5.9 5.9v8.2l-5.9 5.9h-8.2l-5.9-5.9v-8.2zM2117.4 1202.8h8.2l5.9 5.9v8.2l-5.9 5.9h-8.2l-5.9-5.9v-8.2zM2124.9 1221.3h8.2l5.9 5.9v8.2l-5.9 5.9h-8.2l-5.9-5.9v-8.2zM2135.2 1215.7h8.2l5.9 5.9v8.2l-5.9 5.9h-8.2l-5.9-5.9v-8.2zM2150.1 1213.9h8.2l5.9 5.9v8.2l-5.9 5.9h-8.2l-5.9-5.9v-8.2zM2150.1 1228.7h8.2l5.9 5.9v8.2l-5.9 5.9h-8.2l-5.9-5.9v-8.2zM2165.2 1210.2h8.2l5.9 5.9v8.2l-5.9 5.9h-8.2l-5.9-5.9v-8.2zM2180.1 1204.6h8.2l5.9 5.9v8.2l-5.9 5.9h-8.2l-5.9-5.9v-8.2zM2172.6 1231.5h8.2l5.9 5.9v8.2l-5.9 5.9h-8.2l-5.9-5.9v-8.2zM2195.0 1210.2h8.2l5.9 5.9v8.2l-5.9 5.9h-8.2l-5.9-5.9v-8.2zM2193.2 1182.5h8.2l5.9 5.9v8.2l-5.9 5.9h-8.2l-5.9-5.9v-8.2zM2226.8 1188.0h8.2l5.9 5.9v8.2l-5.9 5.9h-8.2l-5.9-5.9v-8.2zM2240.9 1190.8h8.2l5.9 5.9v8.2l-5.9 5.9h-8.2l-5.9-5.9v-8.2zM1964.9 1392.3h8.2l5.9 5.9v8.2l-5.9 5.9h-8.2l-5.9-5.9v-8.2zM1957.4 1405.2h8.2l5.9 5.9v8.2l-5.9 5.9h-8.2l-5.9-5.9v-8.2zM2230.5 1085.3h8.2l5.9 5.9v8.2l-5.9 5.9h-8.2l-5.9-5.9v-8.2zM2238.1 1101.2h8.2l5.9 5.9v8.2l-5.9 5.9h-8.2l-5.9-5.9v-8.2zM2211.9 1114.1h8.2l5.9 5.9v8.2l-5.9 5.9h-8.2l-5.9-5.9v-8.2zM2249.8 1132.4h8.2l5.9 5.9v8.2l-5.9 5.9h-8.2l-5.9-5.9v-8.2zM2246.0 1142.1h8.2l5.9 5.9v8.2l-5.9 5.9h-8.2l-5.9-5.9v-8.2zM2249.1 1136.5h8.2l5.9 5.9v8.2l-5.9 5.9h-8.2l-5.9-5.9v-8.2zM2193.3 1183.0h8.2l5.9 5.9v8.2l-5.9 5.9h-8.2l-5.9-5.9v-8.2zM2226.6 1187.9h8.2l5.9 5.9v8.2l-5.9 5.9h-8.2l-5.9-5.9v-8.2zM2241.4 1190.4h8.2l5.9 5.9v8.2l-5.9 5.9h-8.2l-5.9-5.9v-8.2zM2094.1 1198.3h8.2l5.9 5.9v8.2l-5.9 5.9h-8.2l-5.9-5.9v-8.2zM2117.2 1202.4h8.2l5.9 5.9v8.2l-5.9 5.9h-8.2l-5.9-5.9v-8.2zM2194.4 1210.0h8.2l5.9 5.9v8.2l-5.9 5.9h-8.2l-5.9-5.9v-8.2zM2181.8 1205.8h8.2l5.9 5.9v8.2l-5.9 5.9h-8.2l-5.9-5.9v-8.2zM2167.8 1208.6h8.2l5.9 5.9v8.2l-5.9 5.9h-8.2l-5.9-5.9v-8.2zM2151.6 1212.8h8.2l5.9 5.9v8.2l-5.9 5.9h-8.2l-5.9-5.9v-8.2zM2134.1 1217.0h8.2l5.9 5.9v8.2l-5.9 5.9h-8.2l-5.9-5.9v-8.2zM2124.3 1221.1h8.2l5.9 5.9v8.2l-5.9 5.9h-8.2l-5.9-5.9v-8.2zM2176.2 1215.6h8.2l5.9 5.9v8.2l-5.9 5.9h-8.2l-5.9-5.9v-8.2zM2173.3 1228.1h8.2l5.9 5.9v8.2l-5.9 5.9h-8.2l-5.9-5.9v-8.2zM2079.4 1228.1h8.2l5.9 5.9v8.2l-5.9 5.9h-8.2l-5.9-5.9v-8.2zM1766.1 1443.3h8.2l5.9 5.9v8.2l-5.9 5.9h-8.2l-5.9-5.9v-8.2zM1766.1 1462.6h8.2l5.9 5.9v8.2l-5.9 5.9h-8.2l-5.9-5.9v-8.2zM1727.1 1470.7h8.2l5.9 5.9v8.2l-5.9 5.9h-8.2l-5.9-5.9v-8.2zM1750.1 1477.7h8.2l5.9 5.9v8.2l-5.9 5.9h-8.2l-5.9-5.9v-8.2zM1753.8 1496.5h8.2l5.9 5.9v8.2l-5.9 5.9h-8.2l-5.9-5.9v-8.2zM1777.4 1475.4h8.2l5.9 5.9v8.2l-5.9 5.9h-8.2l-5.9-5.9v-8.2zM1793.9 1489.4h8.2l5.9 5.9v8.2l-5.9 5.9h-8.2l-5.9-5.9v-8.2zM1810.4 1481.2h8.2l5.9 5.9v8.2l-5.9 5.9h-8.2l-5.9-5.9v-8.2zM1801.0 1454.4h8.2l5.9 5.9v8.2l-5.9 5.9h-8.2l-5.9-5.9v-8.2zM1815.1 1445.0h8.2l5.9 5.9v8.2l-5.9 5.9h-8.2l-5.9-5.9v-8.2zM1826.9 1438.0h8.2l5.9 5.9v8.2l-5.9 5.9h-8.2l-5.9-5.9v-8.2zM1826.9 1468.4h8.2l5.9 5.9v8.2l-5.9 5.9h-8.2l-5.9-5.9v-8.2zM1789.2 1463.8h8.2l5.9 5.9v8.2l-5.9 5.9h-8.2l-5.9-5.9v-8.2zM1766.7 1477.7h8.2l5.9 5.9v8.2l-5.9 5.9h-8.2l-5.9-5.9v-8.2zM1701.7 1488.3h8.2l5.9 5.9v8.2l-5.9 5.9h-8.2l-5.9-5.9v-8.2zM1713.6 1488.3h8.2l5.9 5.9v8.2l-5.9 5.9h-8.2l-5.9-5.9v-8.2zM1697.0 1498.8h8.2l5.9 5.9v8.2l-5.9 5.9h-8.2l-5.9-5.9v-8.2zM1720.7 1501.1h8.2l5.9 5.9v8.2l-5.9 5.9h-8.2l-5.9-5.9v-8.2zM1746.6 1512.7h8.2l5.9 5.9v8.2l-5.9 5.9h-8.2l-5.9-5.9v-8.2zM1732.5 1524.5h8.2l5.9 5.9v8.2l-5.9 5.9h-8.2l-5.9-5.9v-8.2zM1710.0 1524.5h8.2l5.9 5.9v8.2l-5.9 5.9h-8.2l-5.9-5.9v-8.2zM1656.9 1497.6h8.2l5.9 5.9v8.2l-5.9 5.9h-8.2l-5.9-5.9v-8.2zM1650.9 1512.8h8.2l5.9 5.9v8.2l-5.9 5.9h-8.2l-5.9-5.9v-8.2zM1680.5 1509.2h8.2l5.9 5.9v8.2l-5.9 5.9h-8.2l-5.9-5.9v-8.2zM1685.2 1524.5h8.2l5.9 5.9v8.2l-5.9 5.9h-8.2l-5.9-5.9v-8.2zM1673.4 1536.2h8.2l5.9 5.9v8.2l-5.9 5.9h-8.2l-5.9-5.9v-8.2zM1649.7 1533.8h8.2l5.9 5.9v8.2l-5.9 5.9h-8.2l-5.9-5.9v-8.2zM1646.2 1547.8h8.2l5.9 5.9v8.2l-5.9 5.9h-8.2l-5.9-5.9v-8.2zM1661.5 1547.8h8.2l5.9 5.9v8.2l-5.9 5.9h-8.2l-5.9-5.9v-8.2zM1673.4 1551.3h8.2l5.9 5.9v8.2l-5.9 5.9h-8.2l-5.9-5.9v-8.2zM1661.5 1565.3h8.2l5.9 5.9v8.2l-5.9 5.9h-8.2l-5.9-5.9v-8.2zM1643.8 1565.3h8.2l5.9 5.9v8.2l-5.9 5.9h-8.2l-5.9-5.9v-8.2zM1626.1 1565.3h8.2l5.9 5.9v8.2l-5.9 5.9h-8.2l-5.9-5.9v-8.2zM1614.3 1567.7h8.2l5.9 5.9v8.2l-5.9 5.9h-8.2l-5.9-5.9v-8.2zM1597.7 1547.8h8.2l5.9 5.9v8.2l-5.9 5.9h-8.2l-5.9-5.9v-8.2zM1594.2 1515.1h8.2l5.9 5.9v8.2l-5.9 5.9h-8.2l-5.9-5.9v-8.2zM1600.1 1582.8h8.2l5.9 5.9v8.2l-5.9 5.9h-8.2l-5.9-5.9v-8.2zM1617.8 1582.8h8.2l5.9 5.9v8.2l-5.9 5.9h-8.2l-5.9-5.9v-8.2zM1647.4 1589.8h8.2l5.9 5.9v8.2l-5.9 5.9h-8.2l-5.9-5.9v-8.2zM1637.9 1596.8h8.2l5.9 5.9v8.2l-5.9 5.9h-8.2l-5.9-5.9v-8.2zM1619.0 1603.9h8.2l5.9 5.9v8.2l-5.9 5.9h-8.2l-5.9-5.9v-8.2zM1689.9 1605.6h8.2l5.9 5.9v8.2l-5.9 5.9h-8.2l-5.9-5.9v-8.2zM1593.0 1617.8h8.2l5.9 5.9v8.2l-5.9 5.9h-8.2l-5.9-5.9v-8.2zM1981.0 1256.4h8.2l5.9 5.9v8.2l-5.9 5.9h-8.2l-5.9-5.9v-8.2zM1988.4 1275.0h8.2l5.9 5.9v8.2l-5.9 5.9h-8.2l-5.9-5.9v-8.2zM1975.4 1262.0h8.2l5.9 5.9v8.2l-5.9 5.9h-8.2l-5.9-5.9v-8.2zM2138.1 1219.4h8.2l5.9 5.9v8.2l-5.9 5.9h-8.2l-5.9-5.9v-8.2zM2156.9 1212.0h8.2l5.9 5.9v8.2l-5.9 5.9h-8.2l-5.9-5.9v-8.2zM2171.8 1215.7h8.2l5.9 5.9v8.2l-5.9 5.9h-8.2l-5.9-5.9v-8.2zM2162.4 1228.7h8.2l5.9 5.9v8.2l-5.9 5.9h-8.2l-5.9-5.9v-8.2zM2247.7 1138.8h8.2l5.9 5.9v8.2l-5.9 5.9h-8.2l-5.9-5.9v-8.2zM1412.4 1464.8h8.2l5.9 5.9v8.2l-5.9 5.9h-8.2l-5.9-5.9v-8.2zM1314.6 1542.4h8.2l5.9 5.9v8.2l-5.9 5.9h-8.2l-5.9-5.9v-8.2zM1310.4 1581.8h8.2l5.9 5.9v8.2l-5.9 5.9h-8.2l-5.9-5.9v-8.2zM1410.6 1654.4h8.2l5.9 5.9v8.2l-5.9 5.9h-8.2l-5.9-5.9v-8.2zM1356.8 1678.5h8.2l5.9 5.9v8.2l-5.9 5.9h-8.2l-5.9-5.9v-8.2zM1319.3 1686.1h8.2l5.9 5.9v8.2l-5.9 5.9h-8.2l-5.9-5.9v-8.2zM1333.6 1694.3h8.2l5.9 5.9v8.2l-5.9 5.9h-8.2l-5.9-5.9v-8.2zM1344.1 1700.0h8.2l5.9 5.9v8.2l-5.9 5.9h-8.2l-5.9-5.9v-8.2zM1324.4 1708.2h8.2l5.9 5.9v8.2l-5.9 5.9h-8.2l-5.9-5.9v-8.2zM1348.7 1715.1h8.2l5.9 5.9v8.2l-5.9 5.9h-8.2l-5.9-5.9v-8.2zM1334.8 1723.2h8.2l5.9 5.9v8.2l-5.9 5.9h-8.2l-5.9-5.9v-8.2zM1323.2 1717.4h8.2l5.9 5.9v8.2l-5.9 5.9h-8.2l-5.9-5.9v-8.2zM1587.4 1713.3h8.2l5.9 5.9v8.2l-5.9 5.9h-8.2l-5.9-5.9v-8.2zM1402.0 1741.8h8.2l5.9 5.9v8.2l-5.9 5.9h-8.2l-5.9-5.9v-8.2zM1426.3 1734.8h8.2l5.9 5.9v8.2l-5.9 5.9h-8.2l-5.9-5.9v-8.2zM1421.7 1754.5h8.2l5.9 5.9v8.2l-5.9 5.9h-8.2l-5.9-5.9v-8.2zM1296.5 1806.7h8.2l5.9 5.9v8.2l-5.9 5.9h-8.2l-5.9-5.9v-8.2z"/>
<line x1="1296.0" y1="1835.0" x2="2380.0" y2="1080.0" stroke="#d95319" stroke-width="2.1"/>
<rect x="84" y="1078" width="1074" height="757" fill="none" stroke="#1e1e1e" stroke-width="1.8"/>
<path d="M237.4 1835v-11M237.4 1078v11M390.9 1835v-11M390.9 1078v11M544.3 1835v-11M544.3 1078v11M697.7 1835v-11M697.7 1078v11M851.1 1835v-11M851.1 1078v11M1004.6 1835v-11M1004.6 1078v11M84 1726.9h11M1158 1726.9h-11M84 1618.7h11M1158 1618.7h-11M84 1510.6h11M1158 1510.6h-11M84 1402.4h11M1158 1402.4h-11M84 1294.3h11M1158 1294.3h-11M84 1186.1h11M1158 1186.1h-11" stroke="#1e1e1e" stroke-width="1.8" fill="none"/>
<rect x="1296" y="1080" width="1084" height="755" fill="none" stroke="#1e1e1e" stroke-width="1.8"/>
<path d="M1450.9 1835v-11M1450.9 1080v11M1605.7 1835v-11M1605.7 1080v11M1760.6 1835v-11M1760.6 1080v11M1915.4 1835v-11M1915.4 1080v11M2070.3 1835v-11M2070.3 1080v11M2225.1 1835v-11M2225.1 1080v11M1296 1727.1h11M2380 1727.1h-11M1296 1619.3h11M2380 1619.3h-11M1296 1511.4h11M2380 1511.4h-11M1296 1403.6h11M2380 1403.6h-11M1296 1295.7h11M2380 1295.7h-11M1296 1187.9h11M2380 1187.9h-11" stroke="#1e1e1e" stroke-width="1.8" fill="none"/>
<text x="84.0" y="1877.8" font-size="32" text-anchor="middle" fill="#1a1a1a">0</text>
<text x="237.4" y="1877.8" font-size="32" text-anchor="middle" fill="#1a1a1a">1</text>
<text x="390.9" y="1877.8" font-size="32" text-anchor="middle" fill="#1a1a1a">2</text>
<text x="544.3" y="1877.8" font-size="32" text-anchor="middle" fill="#1a1a1a">3</text>
<text x="697.7" y="1877.8" font-size="32" text-anchor="middle" fill="#1a1a1a">4</text>
<text x="851.1" y="1877.8" font-size="32" text-anchor="middle" fill="#1a1a1a">5</text>
<text x="1004.6" y="1877.8" font-size="32" text-anchor="middle" fill="#1a1a1a">6</text>
<text x="1158.0" y="1877.8" font-size="32" text-anchor="middle" fill="#1a1a1a">7</text>
<text x="68.0" y="1846.2" font-size="32" text-anchor="end" fill="#1a1a1a">0</text>
<text x="68.0" y="1738.1" font-size="32" text-anchor="end" fill="#1a1a1a">1</text>
<text x="68.0" y="1629.9" font-size="32" text-anchor="end" fill="#1a1a1a">2</text>
<text x="68.0" y="1521.8" font-size="32" text-anchor="end" fill="#1a1a1a">3</text>
<text x="68.0" y="1413.6" font-size="32" text-anchor="end" fill="#1a1a1a">4</text>
<text x="68.0" y="1305.5" font-size="32" text-anchor="end" fill="#1a1a1a">5</text>
<text x="68.0" y="1197.3" font-size="32" text-anchor="end" fill="#1a1a1a">6</text>
<text x="68.0" y="1089.2" font-size="32" text-anchor="end" fill="#1a1a1a">7</text>
<text x="1296.0" y="1878.0" font-size="32" text-anchor="middle" fill="#1a1a1a">0</text>
<text x="1450.9" y="1878.0" font-size="32" text-anchor="middle" fill="#1a1a1a">1</text>
<text x="1605.7" y="1878.0" font-size="32" text-anchor="middle" fill="#1a1a1a">2</text>
<text x="1760.6" y="1878.0" font-size="32" text-anchor="middle" fill="#1a1a1a">3</text>
<text x="1915.4" y="1878.0" font-size="32" text-anchor="middle" fill="#1a1a1a">4</text>
<text x="2070.3" y="1878.0" font-size="32" text-anchor="middle" fill="#1a1a1a">5</text>
<text x="2225.1" y="1878.0" font-size="32" text-anchor="middle" fill="#1a1a1a">6</text>
<text x="2380.0" y="1878.0" font-size="32" text-anchor="middle" fill="#1a1a1a">7</text>
<text x="1280.0" y="1846.2" font-size="32" text-anchor="end" fill="#1a1a1a">0</text>
<text x="1280.0" y="1738.3" font-size="32" text-anchor="end" fill="#1a1a1a">1</text>
<text x="1280.0" y="1630.5" font-size="32" text-anchor="end" fill="#1a1a1a">2</text>
<text x="1280.0" y="1522.6" font-size="32" text-anchor="end" fill="#1a1a1a">3</text>
<text x="1280.0" y="1414.8" font-size="32" text-anchor="end" fill="#1a1a1a">4</text>
<text x="1280.0" y="1306.9" font-size="32" text-anchor="end" fill="#1a1a1a">5</text>
<text x="1280.0" y="1199.1" font-size="32" text-anchor="end" fill="#1a1a1a">6</text>
<text x="1280.0" y="1091.2" font-size="32" text-anchor="end" fill="#1a1a1a">7</text>
<text x="371.4" y="1049.6" font-size="31" textLength="497.2" lengthAdjust="spacingAndGlyphs" fill="#000">CFO<tspan font-size="12.4" dy="6.8">_</tspan><tspan dy="-6.8">OPER</tspan><tspan font-size="12.4" dy="6.8">_</tspan><tspan dy="-6.8">SWI</tspan><tspan font-size="12.4" dy="6.8">_</tspan><tspan dy="-6.8">L1A</tspan><tspan font-size="12.4" dy="6.8">_</tspan><tspan dy="-6.8">---551.nc</tspan></text>
<text x="1585.6" y="1052.0" font-size="31.5" textLength="503.9" lengthAdjust="spacingAndGlyphs" fill="#000">CFO<tspan font-size="12.6" dy="6.9">_</tspan><tspan dy="-6.9">OPER</tspan><tspan font-size="12.6" dy="6.9">_</tspan><tspan dy="-6.9">SWI</tspan><tspan font-size="12.6" dy="6.9">_</tspan><tspan dy="-6.9">L1A</tspan><tspan font-size="12.6" dy="6.9">_</tspan><tspan dy="-6.9">---551.nc</tspan></text>
<text x="438.5" y="1921.0" font-size="33" textLength="362.4" lengthAdjust="spacingAndGlyphs" fill="#1a1a1a">SWH from ECMWF /m</text>
<text x="1654.8" y="1921.4" font-size="33" textLength="366.6" lengthAdjust="spacingAndGlyphs" fill="#1a1a1a">SWH from ECMWF /m</text>
<text x="27.5" y="1599.0" font-size="33" textLength="271.0" lengthAdjust="spacingAndGlyphs" transform="rotate(-90 27.5 1599.0)" fill="#1a1a1a">SWH by MLE6 /m</text>
<text x="1241.5" y="1582.7" font-size="34" textLength="252.1" lengthAdjust="spacingAndGlyphs" transform="rotate(-90 1241.5 1582.7)" fill="#1a1a1a">SWH by MLE4 /m</text>
<text x="129.0" y="149.0" font-size="63" textLength="73.5" lengthAdjust="spacingAndGlyphs" font-weight="bold" fill="#000">(a)</text>
<text x="1344.5" y="138.8" font-size="57.5" textLength="70.0" lengthAdjust="spacingAndGlyphs" font-weight="bold" fill="#000">(b)</text>
<text x="101.0" y="1140.5" font-size="56" textLength="60.5" lengthAdjust="spacingAndGlyphs" font-weight="bold" fill="#000">(c)</text>
<text x="1323.0" y="1144.0" font-size="59" textLength="68.0" lengthAdjust="spacingAndGlyphs" font-weight="bold" fill="#000">(d)</text></g></svg></body></html>
